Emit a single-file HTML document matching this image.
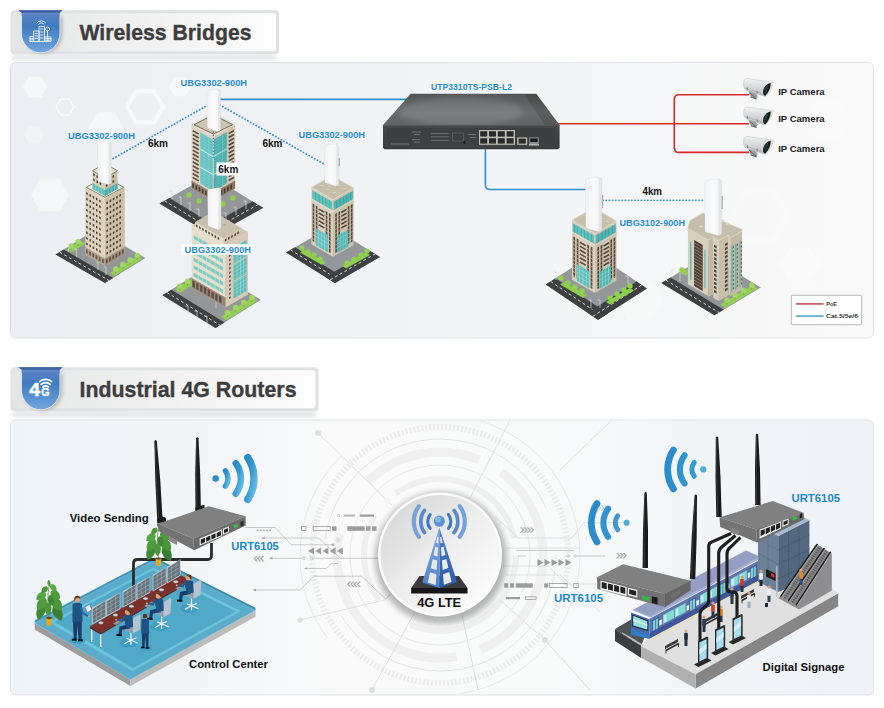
<!DOCTYPE html>
<html><head><meta charset="utf-8"><title>Wireless Bridges / Industrial 4G Routers</title>
<style>
html,body{margin:0;padding:0;background:#fff;}
body{width:884px;height:708px;overflow:hidden;font-family:"Liberation Sans",sans-serif;}
svg{display:block;font-family:"Liberation Sans",sans-serif;}
</style></head><body>
<svg width="884" height="708" viewBox="0 0 884 708">
<defs>
<linearGradient id="gP1" x1="0" y1="0" x2="1" y2="0"><stop offset="0" stop-color="#ebeef2"/><stop offset="0.55" stop-color="#f3f4f6"/><stop offset="1" stop-color="#f9f9f9"/></linearGradient>
<linearGradient id="gP2" x1="0" y1="0" x2="1" y2="0"><stop offset="0" stop-color="#eff4f9"/><stop offset="0.2" stop-color="#f2f5f8"/><stop offset="0.38" stop-color="#fafafa"/><stop offset="0.62" stop-color="#f9fafa"/><stop offset="0.8" stop-color="#f2f5f8"/><stop offset="1" stop-color="#eff3f8"/></linearGradient>
<linearGradient id="gHd" x1="0" y1="0" x2="1" y2="0"><stop offset="0" stop-color="#e4e5e6"/><stop offset="0.5" stop-color="#f1f1f1"/><stop offset="1" stop-color="#fdfdfd"/></linearGradient>
<linearGradient id="gSh" x1="0" y1="0" x2="0" y2="1"><stop offset="0" stop-color="#6f90c8"/><stop offset="0.12" stop-color="#5883c3"/><stop offset="0.38" stop-color="#417bc1"/><stop offset="1" stop-color="#70a6de"/></linearGradient>
<linearGradient id="gBr" x1="0" y1="0" x2="1" y2="0"><stop offset="0" stop-color="#f1f2f4"/><stop offset="0.6" stop-color="#fbfbfc"/><stop offset="1" stop-color="#f3f4f5"/></linearGradient>
<linearGradient id="gSwT" x1="0" y1="0" x2="0" y2="1"><stop offset="0" stop-color="#535557"/><stop offset="0.6" stop-color="#696b6d"/><stop offset="1" stop-color="#5f6163"/></linearGradient>
<linearGradient id="gSwF" x1="0" y1="0" x2="0" y2="1"><stop offset="0" stop-color="#454749"/><stop offset="1" stop-color="#37393b"/></linearGradient>
<linearGradient id="gCam" x1="0" y1="0" x2="0" y2="1"><stop offset="0" stop-color="#f2f2f2"/><stop offset="1" stop-color="#b9bbbd"/></linearGradient>
<linearGradient id="gWf" x1="0" y1="0" x2="1" y2="0"><stop offset="0" stop-color="#1d8fd4"/><stop offset="1" stop-color="#74c3ee"/></linearGradient>
<linearGradient id="gWfV" x1="0" y1="0" x2="0.7" y2="1"><stop offset="0" stop-color="#278bc9"/><stop offset="0.5" stop-color="#3798d2"/><stop offset="1" stop-color="#60b8e3"/></linearGradient>
<linearGradient id="gWfR" x1="1" y1="0" x2="0" y2="0"><stop offset="0" stop-color="#1d8fd4"/><stop offset="1" stop-color="#5bb4e8"/></linearGradient>
<linearGradient id="gCirc" x1="0" y1="0" x2="1" y2="1"><stop offset="0" stop-color="#d2d2d2"/><stop offset="0.5" stop-color="#eeeeee"/><stop offset="1" stop-color="#ffffff"/></linearGradient>
<radialGradient id="gShadow" cx="0.5" cy="0.5" r="0.5"><stop offset="0.8" stop-color="#000" stop-opacity="0.22"/><stop offset="1" stop-color="#000" stop-opacity="0"/></radialGradient>
<linearGradient id="gTwL" x1="0" y1="0" x2="0" y2="1"><stop offset="0" stop-color="#82abde"/><stop offset="1" stop-color="#4f83c9"/></linearGradient>
<linearGradient id="gTwR" x1="0" y1="0" x2="0" y2="1"><stop offset="0" stop-color="#4d7fc6"/><stop offset="1" stop-color="#2c5aa8"/></linearGradient>
<linearGradient id="gAnt" x1="0" y1="0" x2="1" y2="0"><stop offset="0" stop-color="#3a3a3a"/><stop offset="0.5" stop-color="#111"/><stop offset="1" stop-color="#000"/></linearGradient>
<filter id="fBlur" x="-20%" y="-20%" width="140%" height="140%"><feGaussianBlur stdDeviation="3"/></filter>
<filter id="fBlur2" x="-20%" y="-50%" width="140%" height="200%"><feGaussianBlur stdDeviation="2"/></filter>
</defs>
<rect width="884" height="708" fill="#ffffff"/>

<rect x="12" y="54.3" width="264.5" height="6" fill="#000" opacity="0.10" filter="url(#fBlur2)"/>
<rect x="10.5" y="10.3" width="268.5" height="44" rx="4" fill="#dfe1e3"/>
<rect x="12.5" y="13.3" width="263.5" height="38" rx="3" fill="url(#gHd)"/>
<path d="M24,16.3 H62 V34.3 A19,19 0 0 1 24,34.3 Z" fill="#000" opacity="0.25" filter="url(#fBlur2)"/>
<path d="M18.3,10.3 H62.6 L59.7,12.8 V33.3 A19,19.3 0 0 1 21.7,33.3 V12.8 Z" fill="url(#gSh)"/>
<path d="M59.9,16.3 V33.3 A19.2,19.5 0 0 1 21.5,33.3 V16.3" fill="none" stroke="#fff" stroke-width="0.7" opacity="0.75"/>
<path d="M18.3,10.3 H62.6 L59.7,12.8 H21.7 Z" fill="#3d64a0"/>
<g fill="none" stroke="#fff" stroke-width="0.8" stroke-linecap="round" stroke-linejoin="round">
<path d="M33.5,41.5 V31 h5.5 V41.5 M35,33.5 h2.5 M35,36 h2.5 M35,38.5 h2.5"/>
<path d="M39,41.5 V26.5 h5.5 V41.5 M40.5,29 h2.5 M40.5,32 h2.5 M40.5,35 h2.5 M40.5,38 h2.5"/>
<path d="M30,41.5 V36.5 h3.5 M30,38.2 h3.5 M30,39.9 h3.5 M30,41.5 H51 V37 H44.5 M44.5,38.7 H51 M44.5,40.2 H51 M47.7,37 V41.5"/>
<circle cx="47.5" cy="29" r="2"/><path d="M47.5,31 V36.5"/>
<path d="M38.5,24.3 a3.3,3.3 0 0 1 5.6,0 M37,22.8 a5.4,5.4 0 0 1 8.6,0"/>
</g>
<text x="79.5" y="40.2" font-size="21.3" font-weight="bold" fill="#3d3d3d" text-anchor="start" textLength="172" lengthAdjust="spacingAndGlyphs" stroke="#3d3d3d" stroke-width="0.35">Wireless Bridges</text>
<rect x="12" y="411.2" width="304" height="6" fill="#000" opacity="0.10" filter="url(#fBlur2)"/>
<rect x="10.5" y="367.2" width="308" height="44" rx="4" fill="#dfe1e3"/>
<rect x="12.5" y="370.2" width="303" height="38" rx="3" fill="url(#gHd)"/>
<path d="M24,373.2 H62 V391.2 A19,19 0 0 1 24,391.2 Z" fill="#000" opacity="0.25" filter="url(#fBlur2)"/>
<path d="M18.3,367.2 H62.6 L59.7,369.7 V390.2 A19,19.3 0 0 1 21.7,390.2 V369.7 Z" fill="url(#gSh)"/>
<path d="M59.9,373.2 V390.2 A19.2,19.5 0 0 1 21.5,390.2 V373.2" fill="none" stroke="#fff" stroke-width="0.7" opacity="0.75"/>
<path d="M18.3,367.2 H62.6 L59.7,369.7 H21.7 Z" fill="#3d64a0"/>
<text x="29.3" y="396.4" font-size="18.5" font-weight="bold" fill="#fff" stroke="#fff" stroke-width="0.5" textLength="10.8" lengthAdjust="spacingAndGlyphs">4</text>
<text x="41.2" y="396.4" font-size="10.8" font-weight="bold" fill="#fff" stroke="#fff" stroke-width="0.3">G</text>
<g fill="none" stroke="#fff" stroke-width="1.7" stroke-linecap="round"><path d="M43,387 a4,4 0 0 1 5.4,0"/><path d="M41.2,384.3 a6.6,6.6 0 0 1 9,0"/><path d="M39.6,381.7 a9.2,9.2 0 0 1 12.2,0" stroke-width="1.6"/></g>
<text x="79.5" y="397.09999999999997" font-size="21.3" font-weight="bold" fill="#3d3d3d" text-anchor="start" textLength="217" lengthAdjust="spacingAndGlyphs" stroke="#3d3d3d" stroke-width="0.35">Industrial 4G Routers</text>
<rect x="10.5" y="62.5" width="863" height="275.5" rx="5" fill="url(#gP1)" stroke="#dfe2e5" stroke-width="1"/>
<polygon points="47.0,87.0 41.0,97.4 29.0,97.4 23.0,87.0 29.0,76.6 41.0,76.6" fill="#fff" opacity="0.55"/>
<polygon points="74.0,107.0 69.5,114.8 60.5,114.8 56.0,107.0 60.5,99.2 69.5,99.2" fill="none" stroke="#fff" stroke-width="1.2" opacity="0.7"/>
<polygon points="123.0,127.0 114.5,141.7 97.5,141.7 89.0,127.0 97.5,112.3 114.5,112.3" fill="#fff" opacity="0.45"/>
<polygon points="163.0,107.0 154.0,122.6 136.0,122.6 127.0,107.0 136.0,91.4 154.0,91.4" fill="none" stroke="#fff" stroke-width="4" opacity="0.6"/>
<polygon points="191.0,87.0 185.5,96.5 174.5,96.5 169.0,87.0 174.5,77.5 185.5,77.5" fill="#fff" opacity="0.5"/>
<polygon points="69.0,195.0 59.5,211.5 40.5,211.5 31.0,195.0 40.5,178.5 59.5,178.5" fill="#fff" opacity="0.45"/>
<polygon points="44.0,135.0 39.0,143.7 29.0,143.7 24.0,135.0 29.0,126.3 39.0,126.3" fill="#fff" opacity="0.3"/>
<polygon points="820.0,265.0 810.0,282.3 790.0,282.3 780.0,265.0 790.0,247.7 810.0,247.7" fill="#fff" opacity="0.25"/>
<polygon points="788.0,215.0 774.0,239.2 746.0,239.2 732.0,215.0 746.0,190.8 774.0,190.8" fill="none" stroke="#fff" stroke-width="5" opacity="0.22"/>
<polygon points="852.0,120.0 841.0,139.1 819.0,139.1 808.0,120.0 819.0,100.9 841.0,100.9" fill="#fff" opacity="0.22"/>
<polygon points="664.0,300.0 652.0,320.8 628.0,320.8 616.0,300.0 628.0,279.2 652.0,279.2" fill="#fff" opacity="0.22"/>
<path d="M220,99.4 H408" stroke="#2f8fcf" stroke-width="1.6" fill="none"/>
<path d="M485.4,148 V184.8 Q485.4,189.5 490,189.5 H586" stroke="#2f8fcf" stroke-width="1.6" fill="none"/>
<path d="M558,123.7 H749 M749,94.8 H679 Q674.3,94.8 674.3,99.5 V147.7 Q674.3,152.4 679,152.4 H749" stroke="#d42a2a" stroke-width="1.6" fill="none"/>
<line x1="208.0" y1="105.0" x2="111.5" y2="159.5" stroke="#2f8fcf" stroke-width="1.8" stroke-dasharray="0.1 3.1" stroke-linecap="round"/>
<line x1="220.0" y1="105.0" x2="324.0" y2="164.0" stroke="#2f8fcf" stroke-width="1.8" stroke-dasharray="0.1 3.1" stroke-linecap="round"/>
<line x1="603.0" y1="200.3" x2="704.0" y2="200.3" stroke="#2f8fcf" stroke-width="1.8" stroke-dasharray="0.1 3.1" stroke-linecap="round"/>
<polygon points="159.5,203.5 209.7,175.3 263.2,207.8 213.0,236.0" fill="#94979a" />
<polygon points="159.5,203.5 213.0,236.0 223.0,230.4 169.5,197.9" fill="#3e4042" />
<line x1="164.5" y1="200.7" x2="218.0" y2="233.2" stroke="#e8e8e8" stroke-width="0.9" stroke-dasharray="3 2.5"/>
<polygon points="213.0,236.0 263.2,207.8 252.5,201.3 202.3,229.5" fill="#3e4042" />
<line x1="207.7" y1="232.8" x2="257.9" y2="204.6" stroke="#e8e8e8" stroke-width="0.9" stroke-dasharray="3 2.5"/>
<circle cx="189" cy="195" r="2.7" fill="#8fd14f"/>
<circle cx="199" cy="201" r="2.7" fill="#8fd14f"/>
<circle cx="223" cy="204" r="2.7" fill="#8fd14f"/>
<circle cx="233" cy="198" r="2.7" fill="#8fd14f"/>
<path d="M172,199 V191 h-2.5" stroke="#d9dcdf" stroke-width="0.7" fill="none"/>
<path d="M181,205 V197 h-2.5" stroke="#d9dcdf" stroke-width="0.7" fill="none"/>
<path d="M190,211 V203 h-2.5" stroke="#d9dcdf" stroke-width="0.7" fill="none"/>
<path d="M199,217 V209 h-2.5" stroke="#d9dcdf" stroke-width="0.7" fill="none"/>
<path d="M226,221 V213 h-2.5" stroke="#d9dcdf" stroke-width="0.7" fill="none"/>
<path d="M236,215 V207 h-2.5" stroke="#d9dcdf" stroke-width="0.7" fill="none"/>
<path d="M246,209 V201 h-2.5" stroke="#d9dcdf" stroke-width="0.7" fill="none"/>
<polygon points="191.5,124.4 213.3,111.8 235.1,124.4 213.3,137.0" fill="#e6e0d1" />
<polygon points="191.5,124.4 213.3,137.0 213.3,201.0 191.5,188.4" fill="#dcd3c0" />
<polygon points="213.3,137.0 235.1,124.4 235.1,188.4 213.3,201.0" fill="#cfc5b0" />
<polygon points="194.0,124.7 213.3,114.8 232.6,124.7 213.3,134.0" fill="#cdc4b0" stroke="#4a4037" stroke-width="0.7"/>
<polygon points="212.7,139.7 200.3,132.5 200.3,183.5 212.7,190.7" fill="#63c2c0" />
<polygon points="213.9,139.7 226.8,132.2 226.8,183.2 213.9,190.7" fill="#48adae" />
<polygon points="212.7,155.7 200.3,148.5 200.3,149.7 212.7,156.9" fill="#d7f0ee" />
<polygon points="213.9,155.7 226.8,148.2 226.8,149.4 213.9,156.9" fill="#bfe4e2" />
<polygon points="212.7,173.7 200.3,166.5 200.3,167.7 212.7,174.9" fill="#d7f0ee" />
<polygon points="213.9,173.7 226.8,166.2 226.8,167.4 213.9,174.9" fill="#bfe4e2" />
<line x1="200.3" y1="134.5" x2="212.7" y2="141.7" stroke="#8ad2ce" stroke-width="0.45" stroke-dasharray="30 0.01"/>
<line x1="200.3" y1="137.3" x2="212.7" y2="144.5" stroke="#8ad2ce" stroke-width="0.45" stroke-dasharray="30 0.01"/>
<line x1="200.3" y1="140.1" x2="212.7" y2="147.3" stroke="#8ad2ce" stroke-width="0.45" stroke-dasharray="30 0.01"/>
<line x1="200.3" y1="142.9" x2="212.7" y2="150.1" stroke="#8ad2ce" stroke-width="0.45" stroke-dasharray="30 0.01"/>
<line x1="200.3" y1="145.7" x2="212.7" y2="152.9" stroke="#8ad2ce" stroke-width="0.45" stroke-dasharray="30 0.01"/>
<line x1="200.3" y1="148.5" x2="212.7" y2="155.7" stroke="#8ad2ce" stroke-width="0.45" stroke-dasharray="30 0.01"/>
<line x1="200.3" y1="151.3" x2="212.7" y2="158.5" stroke="#8ad2ce" stroke-width="0.45" stroke-dasharray="30 0.01"/>
<line x1="200.3" y1="154.1" x2="212.7" y2="161.3" stroke="#8ad2ce" stroke-width="0.45" stroke-dasharray="30 0.01"/>
<line x1="200.3" y1="156.9" x2="212.7" y2="164.1" stroke="#8ad2ce" stroke-width="0.45" stroke-dasharray="30 0.01"/>
<line x1="200.3" y1="159.7" x2="212.7" y2="166.9" stroke="#8ad2ce" stroke-width="0.45" stroke-dasharray="30 0.01"/>
<line x1="200.3" y1="162.5" x2="212.7" y2="169.7" stroke="#8ad2ce" stroke-width="0.45" stroke-dasharray="30 0.01"/>
<line x1="200.3" y1="165.3" x2="212.7" y2="172.5" stroke="#8ad2ce" stroke-width="0.45" stroke-dasharray="30 0.01"/>
<line x1="200.3" y1="168.1" x2="212.7" y2="175.3" stroke="#8ad2ce" stroke-width="0.45" stroke-dasharray="30 0.01"/>
<line x1="200.3" y1="170.9" x2="212.7" y2="178.1" stroke="#8ad2ce" stroke-width="0.45" stroke-dasharray="30 0.01"/>
<line x1="200.3" y1="173.7" x2="212.7" y2="180.9" stroke="#8ad2ce" stroke-width="0.45" stroke-dasharray="30 0.01"/>
<line x1="200.3" y1="176.5" x2="212.7" y2="183.7" stroke="#8ad2ce" stroke-width="0.45" stroke-dasharray="30 0.01"/>
<line x1="200.3" y1="179.3" x2="212.7" y2="186.5" stroke="#8ad2ce" stroke-width="0.45" stroke-dasharray="30 0.01"/>
<line x1="200.3" y1="182.1" x2="212.7" y2="189.3" stroke="#8ad2ce" stroke-width="0.45" stroke-dasharray="30 0.01"/>
<line x1="213.9" y1="141.7" x2="226.8" y2="134.2" stroke="#7cc8c6" stroke-width="0.45" stroke-dasharray="30 0.01"/>
<line x1="213.9" y1="144.5" x2="226.8" y2="137.0" stroke="#7cc8c6" stroke-width="0.45" stroke-dasharray="30 0.01"/>
<line x1="213.9" y1="147.3" x2="226.8" y2="139.8" stroke="#7cc8c6" stroke-width="0.45" stroke-dasharray="30 0.01"/>
<line x1="213.9" y1="150.1" x2="226.8" y2="142.6" stroke="#7cc8c6" stroke-width="0.45" stroke-dasharray="30 0.01"/>
<line x1="213.9" y1="152.9" x2="226.8" y2="145.4" stroke="#7cc8c6" stroke-width="0.45" stroke-dasharray="30 0.01"/>
<line x1="213.9" y1="155.7" x2="226.8" y2="148.2" stroke="#7cc8c6" stroke-width="0.45" stroke-dasharray="30 0.01"/>
<line x1="213.9" y1="158.5" x2="226.8" y2="151.0" stroke="#7cc8c6" stroke-width="0.45" stroke-dasharray="30 0.01"/>
<line x1="213.9" y1="161.3" x2="226.8" y2="153.8" stroke="#7cc8c6" stroke-width="0.45" stroke-dasharray="30 0.01"/>
<line x1="213.9" y1="164.1" x2="226.8" y2="156.6" stroke="#7cc8c6" stroke-width="0.45" stroke-dasharray="30 0.01"/>
<line x1="213.9" y1="166.9" x2="226.8" y2="159.4" stroke="#7cc8c6" stroke-width="0.45" stroke-dasharray="30 0.01"/>
<line x1="213.9" y1="169.7" x2="226.8" y2="162.2" stroke="#7cc8c6" stroke-width="0.45" stroke-dasharray="30 0.01"/>
<line x1="213.9" y1="172.5" x2="226.8" y2="165.0" stroke="#7cc8c6" stroke-width="0.45" stroke-dasharray="30 0.01"/>
<line x1="213.9" y1="175.3" x2="226.8" y2="167.8" stroke="#7cc8c6" stroke-width="0.45" stroke-dasharray="30 0.01"/>
<line x1="213.9" y1="178.1" x2="226.8" y2="170.6" stroke="#7cc8c6" stroke-width="0.45" stroke-dasharray="30 0.01"/>
<line x1="213.9" y1="180.9" x2="226.8" y2="173.4" stroke="#7cc8c6" stroke-width="0.45" stroke-dasharray="30 0.01"/>
<line x1="213.9" y1="183.7" x2="226.8" y2="176.2" stroke="#7cc8c6" stroke-width="0.45" stroke-dasharray="30 0.01"/>
<line x1="213.9" y1="186.5" x2="226.8" y2="179.0" stroke="#7cc8c6" stroke-width="0.45" stroke-dasharray="30 0.01"/>
<line x1="213.9" y1="189.3" x2="226.8" y2="181.8" stroke="#7cc8c6" stroke-width="0.45" stroke-dasharray="30 0.01"/>
<polygon points="208.8,137.4 208.4,137.1 208.4,188.1 208.8,188.4" fill="#93d7d3" />
<polygon points="217.8,137.4 218.2,137.1 218.2,188.1 217.8,188.4" fill="#84cdca" />
<polygon points="204.3,134.8 203.9,134.5 203.9,185.5 204.3,185.8" fill="#93d7d3" />
<polygon points="222.3,134.8 222.8,134.5 222.8,185.5 222.3,185.8" fill="#84cdca" />
<line x1="192.7" y1="130.6" x2="198.7" y2="134.1" stroke="#584c41" stroke-width="1.6" stroke-dasharray="30 0.01"/>
<line x1="192.7" y1="134.5" x2="198.7" y2="138.0" stroke="#584c41" stroke-width="1.6" stroke-dasharray="30 0.01"/>
<line x1="192.7" y1="138.4" x2="198.7" y2="141.9" stroke="#584c41" stroke-width="1.6" stroke-dasharray="30 0.01"/>
<line x1="192.7" y1="142.3" x2="198.7" y2="145.8" stroke="#584c41" stroke-width="1.6" stroke-dasharray="30 0.01"/>
<line x1="192.7" y1="146.2" x2="198.7" y2="149.7" stroke="#584c41" stroke-width="1.6" stroke-dasharray="30 0.01"/>
<line x1="192.7" y1="150.1" x2="198.7" y2="153.6" stroke="#584c41" stroke-width="1.6" stroke-dasharray="30 0.01"/>
<line x1="192.7" y1="154.0" x2="198.7" y2="157.5" stroke="#584c41" stroke-width="1.6" stroke-dasharray="30 0.01"/>
<line x1="192.7" y1="157.9" x2="198.7" y2="161.4" stroke="#584c41" stroke-width="1.6" stroke-dasharray="30 0.01"/>
<line x1="192.7" y1="161.8" x2="198.7" y2="165.3" stroke="#584c41" stroke-width="1.6" stroke-dasharray="30 0.01"/>
<line x1="192.7" y1="165.7" x2="198.7" y2="169.2" stroke="#584c41" stroke-width="1.6" stroke-dasharray="30 0.01"/>
<line x1="192.7" y1="169.6" x2="198.7" y2="173.1" stroke="#584c41" stroke-width="1.6" stroke-dasharray="30 0.01"/>
<line x1="192.7" y1="173.5" x2="198.7" y2="177.0" stroke="#584c41" stroke-width="1.6" stroke-dasharray="30 0.01"/>
<line x1="192.7" y1="177.4" x2="198.7" y2="180.9" stroke="#584c41" stroke-width="1.6" stroke-dasharray="30 0.01"/>
<line x1="228.7" y1="133.6" x2="233.9" y2="130.6" stroke="#4f443a" stroke-width="1.6" stroke-dasharray="30 0.01"/>
<line x1="228.7" y1="137.5" x2="233.9" y2="134.5" stroke="#4f443a" stroke-width="1.6" stroke-dasharray="30 0.01"/>
<line x1="228.7" y1="141.4" x2="233.9" y2="138.4" stroke="#4f443a" stroke-width="1.6" stroke-dasharray="30 0.01"/>
<line x1="228.7" y1="145.3" x2="233.9" y2="142.3" stroke="#4f443a" stroke-width="1.6" stroke-dasharray="30 0.01"/>
<line x1="228.7" y1="149.2" x2="233.9" y2="146.2" stroke="#4f443a" stroke-width="1.6" stroke-dasharray="30 0.01"/>
<line x1="228.7" y1="153.1" x2="233.9" y2="150.1" stroke="#4f443a" stroke-width="1.6" stroke-dasharray="30 0.01"/>
<line x1="228.7" y1="157.0" x2="233.9" y2="154.0" stroke="#4f443a" stroke-width="1.6" stroke-dasharray="30 0.01"/>
<line x1="228.7" y1="160.9" x2="233.9" y2="157.9" stroke="#4f443a" stroke-width="1.6" stroke-dasharray="30 0.01"/>
<line x1="228.7" y1="164.8" x2="233.9" y2="161.8" stroke="#4f443a" stroke-width="1.6" stroke-dasharray="30 0.01"/>
<line x1="228.7" y1="168.7" x2="233.9" y2="165.7" stroke="#4f443a" stroke-width="1.6" stroke-dasharray="30 0.01"/>
<line x1="228.7" y1="172.6" x2="233.9" y2="169.6" stroke="#4f443a" stroke-width="1.6" stroke-dasharray="30 0.01"/>
<line x1="228.7" y1="176.5" x2="233.9" y2="173.5" stroke="#4f443a" stroke-width="1.6" stroke-dasharray="30 0.01"/>
<line x1="228.7" y1="180.4" x2="233.9" y2="177.4" stroke="#4f443a" stroke-width="1.6" stroke-dasharray="30 0.01"/>
<polygon points="213.3,193.0 191.5,180.4 191.5,188.4 213.3,201.0" fill="#9a8473" />
<polygon points="213.3,193.0 235.1,180.4 235.1,188.4 213.3,201.0" fill="#8a7464" />
<path d="M192.3,182.9L193.9,183.9L193.9,188.4L192.3,187.4ZM195.5,184.8L197.1,185.7L197.1,190.2L195.5,189.3ZM198.7,186.6L200.3,187.5L200.3,192.0L198.7,191.1ZM201.9,188.5L203.5,189.4L203.5,193.9L201.9,193.0ZM205.1,190.3L206.7,191.2L206.7,195.7L205.1,194.8ZM208.3,192.2L209.9,193.1L209.9,197.6L208.3,196.7Z" fill="#4a3c32"/>
<path d="M214.3,194.5L215.9,193.5L215.9,198.0L214.3,199.0ZM217.5,192.6L219.1,191.7L219.1,196.2L217.5,197.1ZM220.7,190.8L222.3,189.9L222.3,194.4L220.7,195.3ZM223.9,188.9L225.5,188.0L225.5,192.5L223.9,193.4ZM227.1,187.1L228.7,186.2L228.7,190.7L227.1,191.6ZM230.3,185.2L231.9,184.3L231.9,188.8L230.3,189.7Z" fill="#43362d"/>
<path d="M207.3,92.4 Q207.3,91.2 208.5,90.9 L216.5,89.3 Q220.0,88.9 220.5,91.2 L220.5,129.7 Q220.0,131.2 217.5,131.2 L208.5,128.0 Q207.6,127.6 207.6,126.6 Z" fill="#e4e6e8" stroke="#d3d6d9" stroke-width="0.4"/>
<path d="M207.3,92.4 Q207.3,91.2 208.5,90.9 L216.5,89.3 Q218.1,89.4 218.1,91.7 L217.9,131.2 L208.5,128.0 Q207.6,127.6 207.6,126.6 Z" fill="url(#gBr)"/>
<line x1="213.3" y1="132.0" x2="213.3" y2="158.0" stroke="#2a7fb8" stroke-width="1.3" stroke-dasharray="0.1 3.1" stroke-linecap="round"/>
<polygon points="55.5,254.5 95.9,229.5 145.4,258.0 105.0,283.0" fill="#94979a" />
<polygon points="55.5,254.5 105.0,283.0 113.1,278.0 63.6,249.5" fill="#3e4042" />
<line x1="59.5" y1="252.0" x2="109.0" y2="280.5" stroke="#e8e8e8" stroke-width="0.9" stroke-dasharray="3 2.5"/>
<polygon points="80.4,240.9 66.7,249.4 71.6,252.2 85.4,243.7" fill="#93cf55" />
<line x1="78.1" y1="243.3" x2="78.1" y2="246.1" stroke="#7a8a4a" stroke-width="0.7" />
<circle cx="78.1" cy="241.7" r="2.7" fill="#9fd962"/>
<line x1="71.2" y1="247.5" x2="71.2" y2="250.3" stroke="#7a8a4a" stroke-width="0.7" />
<circle cx="71.2" cy="245.9" r="2.7" fill="#9fd962"/>
<polygon points="114.8,276.1 142.6,258.8 137.7,256.0 109.8,273.2" fill="#93cf55" />
<line x1="115.6" y1="270.6" x2="115.6" y2="273.4" stroke="#7a8a4a" stroke-width="0.7" />
<circle cx="115.6" cy="269.0" r="2.7" fill="#9fd962"/>
<line x1="122.9" y1="266.1" x2="122.9" y2="268.9" stroke="#7a8a4a" stroke-width="0.7" />
<circle cx="122.9" cy="264.5" r="2.7" fill="#9fd962"/>
<line x1="130.1" y1="261.6" x2="130.1" y2="264.4" stroke="#7a8a4a" stroke-width="0.7" />
<circle cx="130.1" cy="260.0" r="2.7" fill="#9fd962"/>
<line x1="137.4" y1="257.1" x2="137.4" y2="259.9" stroke="#7a8a4a" stroke-width="0.7" />
<circle cx="137.4" cy="255.5" r="2.7" fill="#9fd962"/>
<path d="M68.7,252 V244 h-2.5" stroke="#d9dcdf" stroke-width="0.7" fill="none"/>
<path d="M76.6,257 V249 h-2.5" stroke="#d9dcdf" stroke-width="0.7" fill="none"/>
<path d="M98,270 V262 h-2.5" stroke="#d9dcdf" stroke-width="0.7" fill="none"/>
<path d="M106,275 V267 h-2.5" stroke="#d9dcdf" stroke-width="0.7" fill="none"/>
<polygon points="85.3,187.1 105.0,175.8 124.7,187.1 105.0,198.5" fill="#efe9da" />
<polygon points="85.3,187.1 105.0,198.5 105.0,266.0 85.3,254.6" fill="#ddd3bf" />
<polygon points="105.0,198.5 124.7,187.1 124.7,254.6 105.0,266.0" fill="#cbbfa8" />
<polygon points="86.3,187.3 105.0,177.0 123.7,187.3 105.0,197.3" fill="#f2ede0" stroke="#4a3d33" stroke-width="0.6"/>
<path d="M86.2,192.0L87.7,192.9L87.7,195.2L86.2,194.3ZM89.5,193.9L91.0,194.7L91.0,197.0L89.5,196.2ZM92.7,195.8L94.2,196.6L94.2,198.9L92.7,198.1ZM96.0,197.6L97.5,198.5L97.5,200.8L96.0,199.9ZM99.2,199.5L100.7,200.4L100.7,202.7L99.2,201.8ZM86.2,197.6L87.7,198.5L87.7,200.8L86.2,199.9ZM89.5,199.5L91.0,200.3L91.0,202.6L89.5,201.8ZM92.7,201.4L94.2,202.2L94.2,204.5L92.7,203.7ZM96.0,203.2L97.5,204.1L97.5,206.4L96.0,205.5ZM99.2,205.1L100.7,206.0L100.7,208.3L99.2,207.4ZM86.2,203.2L87.7,204.1L87.7,206.4L86.2,205.5ZM89.5,205.1L91.0,205.9L91.0,208.2L89.5,207.4ZM92.7,207.0L94.2,207.8L94.2,210.1L92.7,209.3ZM96.0,208.8L97.5,209.7L97.5,212.0L96.0,211.1ZM99.2,210.7L100.7,211.6L100.7,213.9L99.2,213.0ZM86.2,208.8L87.7,209.7L87.7,212.0L86.2,211.1ZM89.5,210.7L91.0,211.5L91.0,213.8L89.5,213.0ZM92.7,212.6L94.2,213.4L94.2,215.7L92.7,214.9ZM96.0,214.4L97.5,215.3L97.5,217.6L96.0,216.7ZM99.2,216.3L100.7,217.2L100.7,219.5L99.2,218.6ZM86.2,214.4L87.7,215.3L87.7,217.6L86.2,216.7ZM89.5,216.3L91.0,217.1L91.0,219.4L89.5,218.6ZM92.7,218.2L94.2,219.0L94.2,221.3L92.7,220.5ZM96.0,220.0L97.5,220.9L97.5,223.2L96.0,222.3ZM99.2,221.9L100.7,222.8L100.7,225.1L99.2,224.2ZM86.2,220.0L87.7,220.9L87.7,223.2L86.2,222.3ZM89.5,221.9L91.0,222.7L91.0,225.0L89.5,224.2ZM92.7,223.8L94.2,224.6L94.2,226.9L92.7,226.1ZM96.0,225.6L97.5,226.5L97.5,228.8L96.0,227.9ZM99.2,227.5L100.7,228.4L100.7,230.7L99.2,229.8ZM86.2,225.6L87.7,226.5L87.7,228.8L86.2,227.9ZM89.5,227.5L91.0,228.3L91.0,230.6L89.5,229.8ZM92.7,229.4L94.2,230.2L94.2,232.5L92.7,231.7ZM96.0,231.2L97.5,232.1L97.5,234.4L96.0,233.5ZM99.2,233.1L100.7,234.0L100.7,236.3L99.2,235.4ZM86.2,231.2L87.7,232.1L87.7,234.4L86.2,233.5ZM89.5,233.1L91.0,233.9L91.0,236.2L89.5,235.4ZM92.7,235.0L94.2,235.8L94.2,238.1L92.7,237.3ZM96.0,236.8L97.5,237.7L97.5,240.0L96.0,239.1ZM99.2,238.7L100.7,239.6L100.7,241.9L99.2,241.0ZM86.2,236.8L87.7,237.7L87.7,240.0L86.2,239.1ZM89.5,238.7L91.0,239.5L91.0,241.8L89.5,241.0ZM92.7,240.6L94.2,241.4L94.2,243.7L92.7,242.9ZM96.0,242.4L97.5,243.3L97.5,245.6L96.0,244.7ZM99.2,244.3L100.7,245.2L100.7,247.5L99.2,246.6ZM86.2,242.4L87.7,243.3L87.7,245.6L86.2,244.7ZM89.5,244.3L91.0,245.1L91.0,247.4L89.5,246.6ZM92.7,246.2L94.2,247.0L94.2,249.3L92.7,248.5ZM96.0,248.0L97.5,248.9L97.5,251.2L96.0,250.3ZM99.2,249.9L100.7,250.8L100.7,253.1L99.2,252.2Z" fill="#4a3e34"/>
<path d="M106.4,202.0L107.9,201.2L107.9,203.5L106.4,204.3ZM109.7,200.2L111.2,199.3L111.2,201.6L109.7,202.5ZM112.9,198.3L114.4,197.4L114.4,199.7L112.9,200.6ZM116.2,196.4L117.7,195.6L117.7,197.9L116.2,198.7ZM119.4,194.5L120.9,193.7L120.9,196.0L119.4,196.8ZM106.4,207.6L107.9,206.8L107.9,209.1L106.4,209.9ZM109.7,205.8L111.2,204.9L111.2,207.2L109.7,208.1ZM112.9,203.9L114.4,203.0L114.4,205.3L112.9,206.2ZM116.2,202.0L117.7,201.2L117.7,203.5L116.2,204.3ZM119.4,200.1L120.9,199.3L120.9,201.6L119.4,202.4ZM106.4,213.2L107.9,212.4L107.9,214.7L106.4,215.5ZM109.7,211.4L111.2,210.5L111.2,212.8L109.7,213.7ZM112.9,209.5L114.4,208.6L114.4,210.9L112.9,211.8ZM116.2,207.6L117.7,206.8L117.7,209.1L116.2,209.9ZM119.4,205.7L120.9,204.9L120.9,207.2L119.4,208.0ZM106.4,218.8L107.9,218.0L107.9,220.3L106.4,221.1ZM109.7,217.0L111.2,216.1L111.2,218.4L109.7,219.3ZM112.9,215.1L114.4,214.2L114.4,216.5L112.9,217.4ZM116.2,213.2L117.7,212.4L117.7,214.7L116.2,215.5ZM119.4,211.3L120.9,210.5L120.9,212.8L119.4,213.6ZM106.4,224.4L107.9,223.6L107.9,225.9L106.4,226.7ZM109.7,222.6L111.2,221.7L111.2,224.0L109.7,224.9ZM112.9,220.7L114.4,219.8L114.4,222.1L112.9,223.0ZM116.2,218.8L117.7,218.0L117.7,220.3L116.2,221.1ZM119.4,216.9L120.9,216.1L120.9,218.4L119.4,219.2ZM106.4,230.0L107.9,229.2L107.9,231.5L106.4,232.3ZM109.7,228.2L111.2,227.3L111.2,229.6L109.7,230.5ZM112.9,226.3L114.4,225.4L114.4,227.7L112.9,228.6ZM116.2,224.4L117.7,223.6L117.7,225.9L116.2,226.7ZM119.4,222.5L120.9,221.7L120.9,224.0L119.4,224.8ZM106.4,235.6L107.9,234.8L107.9,237.1L106.4,237.9ZM109.7,233.8L111.2,232.9L111.2,235.2L109.7,236.1ZM112.9,231.9L114.4,231.0L114.4,233.3L112.9,234.2ZM116.2,230.0L117.7,229.2L117.7,231.5L116.2,232.3ZM119.4,228.1L120.9,227.3L120.9,229.6L119.4,230.4ZM106.4,241.2L107.9,240.4L107.9,242.7L106.4,243.5ZM109.7,239.4L111.2,238.5L111.2,240.8L109.7,241.7ZM112.9,237.5L114.4,236.6L114.4,238.9L112.9,239.8ZM116.2,235.6L117.7,234.8L117.7,237.1L116.2,237.9ZM119.4,233.7L120.9,232.9L120.9,235.2L119.4,236.0ZM106.4,246.8L107.9,246.0L107.9,248.3L106.4,249.1ZM109.7,245.0L111.2,244.1L111.2,246.4L109.7,247.3ZM112.9,243.1L114.4,242.2L114.4,244.5L112.9,245.4ZM116.2,241.2L117.7,240.4L117.7,242.7L116.2,243.5ZM119.4,239.3L120.9,238.5L120.9,240.8L119.4,241.6ZM106.4,252.4L107.9,251.6L107.9,253.9L106.4,254.7ZM109.7,250.6L111.2,249.7L111.2,252.0L109.7,252.9ZM112.9,248.7L114.4,247.8L114.4,250.1L112.9,251.0ZM116.2,246.8L117.7,246.0L117.7,248.3L116.2,249.1ZM119.4,244.9L120.9,244.1L120.9,246.4L119.4,247.2Z" fill="#43382f"/>
<polygon points="105.0,258.5 85.3,247.1 85.3,254.6 105.0,266.0" fill="#b3a08e" />
<polygon points="105.0,258.5 124.7,247.1 124.7,254.6 105.0,266.0" fill="#a3907f" />
<path d="M86.0,249.1L87.7,250.1L87.7,254.1L86.0,253.1ZM89.2,251.0L90.9,252.0L90.9,256.0L89.2,255.0ZM92.4,252.8L94.1,253.8L94.1,257.8L92.4,256.8ZM95.6,254.7L97.3,255.7L97.3,259.7L95.6,258.7ZM98.8,256.5L100.5,257.5L100.5,261.5L98.8,260.5ZM102.0,258.4L103.7,259.3L103.7,263.3L102.0,262.4Z" fill="#6a584b"/>
<path d="M106.0,259.5L107.7,258.5L107.7,262.5L106.0,263.5ZM109.2,257.7L110.9,256.7L110.9,260.7L109.2,261.7ZM112.4,255.8L114.1,254.8L114.1,258.8L112.4,259.8ZM115.6,254.0L117.3,253.0L117.3,257.0L115.6,258.0ZM118.8,252.1L120.5,251.2L120.5,255.2L118.8,256.1ZM122.0,250.3L123.7,249.3L123.7,253.3L122.0,254.3Z" fill="#625045"/>
<polygon points="92.5,170.8 105.0,163.6 117.5,170.8 105.0,178.0" fill="#ece5d4" />
<polygon points="92.5,170.8 105.0,178.0 105.0,196.0 92.5,188.8" fill="#d8ceb9" />
<polygon points="105.0,178.0 117.5,170.8 117.5,188.8 105.0,196.0" fill="#c8bca5" />
<polygon points="105.0,190.3 92.5,183.1 92.5,188.8 105.0,196.0" fill="#62c0bc" />
<polygon points="105.0,190.3 117.5,183.1 117.5,188.8 105.0,196.0" fill="#4db0ae" />
<path d="M93.2,173.2L94.7,174.1L94.7,176.4L93.2,175.5ZM96.5,175.1L98.0,176.0L98.0,178.3L96.5,177.4ZM99.7,177.0L101.2,177.9L101.2,180.2L99.7,179.3ZM93.2,178.3L94.7,179.2L94.7,181.5L93.2,180.6ZM96.5,180.2L98.0,181.1L98.0,183.4L96.5,182.5ZM99.7,182.1L101.2,183.0L101.2,185.3L99.7,184.4Z" fill="#4a3e34"/>
<path d="M106.0,179.5L107.5,178.6L107.5,180.9L106.0,181.8ZM109.2,177.6L110.8,176.7L110.8,179.0L109.2,179.9ZM112.5,175.7L114.0,174.9L114.0,177.2L112.5,178.0ZM106.0,184.6L107.5,183.7L107.5,186.0L106.0,186.9ZM109.2,182.7L110.8,181.8L110.8,184.1L109.2,185.0ZM112.5,180.8L114.0,180.0L114.0,182.3L112.5,183.1Z" fill="#43382f"/>
<polygon points="102.0,188.6 101.5,188.3 101.5,194.0 102.0,194.3" fill="#9adbd6" />
<polygon points="108.0,188.6 108.5,188.3 108.5,194.0 108.0,194.3" fill="#8bd0cb" />
<polygon points="99.0,186.8 98.5,186.5 98.5,192.2 99.0,192.5" fill="#9adbd6" />
<polygon points="111.0,186.8 111.5,186.5 111.5,192.2 111.0,192.5" fill="#8bd0cb" />
<polygon points="96.0,185.1 95.5,184.8 95.5,190.5 96.0,190.8" fill="#9adbd6" />
<polygon points="114.0,185.1 114.5,184.8 114.5,190.5 114.0,190.8" fill="#8bd0cb" />
<polygon points="92.5,170.8 105.0,178.0 117.5,170.8 105.0,163.6" fill="none" stroke="#4a3d33" stroke-width="0.6"/>
<path d="M97.9,143.7 Q97.9,142.5 99.1,142.2 L107.1,140.6 Q110.6,140.2 111.1,142.5 L111.1,183.0 Q110.6,184.5 108.1,184.5 L99.1,181.3 Q98.2,180.9 98.2,179.9 Z" fill="#e4e6e8" stroke="#d3d6d9" stroke-width="0.4"/>
<path d="M97.9,143.7 Q97.9,142.5 99.1,142.2 L107.1,140.6 Q108.7,140.7 108.7,143.0 L108.5,184.5 L99.1,181.3 Q98.2,180.9 98.2,179.9 Z" fill="url(#gBr)"/>
<polygon points="286.0,252.4 331.0,226.4 380.0,257.0 335.0,283.0" fill="#94979a" />
<polygon points="286.0,252.4 335.0,283.0 344.0,277.8 295.0,247.2" fill="#3e4042" />
<line x1="290.5" y1="249.8" x2="339.5" y2="280.4" stroke="#e8e8e8" stroke-width="0.9" stroke-dasharray="3 2.5"/>
<polygon points="335.0,283.0 380.0,257.0 370.2,250.9 325.2,276.9" fill="#3e4042" />
<line x1="330.1" y1="279.9" x2="375.1" y2="253.9" stroke="#e8e8e8" stroke-width="0.9" stroke-dasharray="3 2.5"/>
<polygon points="300.0,252.5 322.0,265.0 326.0,262.5 304.0,250.0" fill="#8ccf4d" />
<polygon points="342.0,266.0 366.0,252.5 370.0,255.0 346.0,268.5" fill="#8ccf4d" />
<circle cx="302" cy="248" r="2.6" fill="#8fd14f"/>
<circle cx="308" cy="252" r="2.6" fill="#8fd14f"/>
<circle cx="314" cy="255" r="2.6" fill="#8fd14f"/>
<circle cx="320" cy="259" r="2.6" fill="#8fd14f"/>
<circle cx="347" cy="263" r="2.6" fill="#8fd14f"/>
<circle cx="354" cy="259" r="2.6" fill="#8fd14f"/>
<circle cx="361" cy="255" r="2.6" fill="#8fd14f"/>
<circle cx="367" cy="251" r="2.6" fill="#8fd14f"/>
<polygon points="311.4,187.3 332.0,175.5 353.6,187.9 333.0,199.8" fill="#c5bda9" />
<polygon points="311.4,187.3 333.0,199.8 333.0,256.8 311.4,244.3" fill="#d8cfbc" />
<polygon points="333.0,199.8 353.6,187.9 353.6,244.9 333.0,256.8" fill="#cbc1ac" />
<polygon points="311.4,187.3 332.0,175.5 353.6,187.9 333.0,199.8" fill="#c7bfab" stroke="#e3ddcd" stroke-width="0.8"/>
<ellipse cx="321.5" cy="186.5" rx="2.1" ry="1.2" fill="#e4dfd1"/><ellipse cx="321.5" cy="187.0" rx="2.1" ry="0.9" fill="#aaa290" opacity="0.6"/>
<ellipse cx="328" cy="190" rx="2.1" ry="1.2" fill="#e4dfd1"/><ellipse cx="328" cy="190.5" rx="2.1" ry="0.9" fill="#aaa290" opacity="0.6"/>
<ellipse cx="334.5" cy="193.5" rx="2.1" ry="1.2" fill="#e4dfd1"/><ellipse cx="334.5" cy="194.0" rx="2.1" ry="0.9" fill="#aaa290" opacity="0.6"/>
<ellipse cx="330.5" cy="182.5" rx="2.1" ry="1.2" fill="#e4dfd1"/><ellipse cx="330.5" cy="183.0" rx="2.1" ry="0.9" fill="#aaa290" opacity="0.6"/>
<ellipse cx="338" cy="186" rx="2.1" ry="1.2" fill="#e4dfd1"/><ellipse cx="338" cy="186.5" rx="2.1" ry="0.9" fill="#aaa290" opacity="0.6"/>
<ellipse cx="345" cy="189.5" rx="2.1" ry="1.2" fill="#e4dfd1"/><ellipse cx="345" cy="190.0" rx="2.1" ry="0.9" fill="#aaa290" opacity="0.6"/>
<polygon points="332.2,201.8 312.2,190.3 312.2,198.8 332.2,210.3" fill="#60c0bc" />
<polygon points="333.8,201.8 352.8,190.9 352.8,199.4 333.8,210.3" fill="#50b4b2" />
<polygon points="329.6,200.3 329.1,200.0 329.1,208.5 329.6,208.8" fill="#3a9a98" />
<polygon points="326.2,198.4 325.7,198.1 325.7,206.6 326.2,206.9" fill="#3a9a98" />
<polygon points="322.8,196.4 322.3,196.1 322.3,204.6 322.8,204.9" fill="#3a9a98" />
<polygon points="319.4,194.5 318.9,194.2 318.9,202.7 319.4,203.0" fill="#3a9a98" />
<polygon points="316.0,192.5 315.5,192.2 315.5,200.7 316.0,201.0" fill="#3a9a98" />
<polygon points="336.4,200.3 336.9,200.0 336.9,208.5 336.4,208.8" fill="#35908f" />
<polygon points="339.8,198.4 340.3,198.1 340.3,206.6 339.8,206.9" fill="#35908f" />
<polygon points="343.2,196.4 343.7,196.1 343.7,204.6 343.2,204.9" fill="#35908f" />
<polygon points="346.6,194.5 347.1,194.2 347.1,202.7 346.6,203.0" fill="#35908f" />
<polygon points="350.0,192.5 350.5,192.2 350.5,200.7 350.0,201.0" fill="#35908f" />
<polygon points="333.0,210.8 311.4,198.3 311.4,199.9 333.0,212.4" fill="#e2dccb" />
<polygon points="333.0,210.8 353.6,198.9 353.6,200.5 333.0,212.4" fill="#d6cdb9" />
<polygon points="330.6,213.9 328.9,212.9 328.9,251.9 330.6,252.9" fill="#5b4c40" />
<polygon points="335.3,214.0 336.9,213.0 336.9,252.0 335.3,253.0" fill="#524439" />
<polygon points="327.4,212.1 325.7,211.1 325.7,250.1 327.4,251.1" fill="#5b4c40" />
<polygon points="338.4,212.2 340.0,211.3 340.0,250.3 338.4,251.2" fill="#524439" />
<polygon points="317.5,206.4 315.8,205.4 315.8,242.9 317.5,243.9" fill="#5b4c40" />
<polygon points="347.8,206.8 349.4,205.8 349.4,243.3 347.8,244.3" fill="#524439" />
<polygon points="314.3,204.5 312.6,203.5 312.6,241.0 314.3,242.0" fill="#5b4c40" />
<polygon points="350.8,205.0 352.5,204.1 352.5,241.6 350.8,242.5" fill="#524439" />
<line x1="318.7" y1="209.1" x2="324.4" y2="212.3" stroke="#5b4c40" stroke-width="1.6" stroke-dasharray="30 0.01"/>
<line x1="318.7" y1="213.0" x2="324.4" y2="216.2" stroke="#5b4c40" stroke-width="1.6" stroke-dasharray="30 0.01"/>
<line x1="318.7" y1="216.9" x2="324.4" y2="220.1" stroke="#5b4c40" stroke-width="1.6" stroke-dasharray="30 0.01"/>
<line x1="318.7" y1="220.8" x2="324.4" y2="224.0" stroke="#5b4c40" stroke-width="1.6" stroke-dasharray="30 0.01"/>
<line x1="318.7" y1="224.7" x2="324.4" y2="227.9" stroke="#5b4c40" stroke-width="1.6" stroke-dasharray="30 0.01"/>
<line x1="341.2" y1="212.5" x2="346.6" y2="209.4" stroke="#524439" stroke-width="1.6" stroke-dasharray="30 0.01"/>
<line x1="341.2" y1="216.4" x2="346.6" y2="213.3" stroke="#524439" stroke-width="1.6" stroke-dasharray="30 0.01"/>
<line x1="341.2" y1="220.3" x2="346.6" y2="217.2" stroke="#524439" stroke-width="1.6" stroke-dasharray="30 0.01"/>
<line x1="341.2" y1="224.2" x2="346.6" y2="221.1" stroke="#524439" stroke-width="1.6" stroke-dasharray="30 0.01"/>
<line x1="341.2" y1="228.1" x2="346.6" y2="225.0" stroke="#524439" stroke-width="1.6" stroke-dasharray="30 0.01"/>
<line x1="312.4" y1="207.3" x2="331.0" y2="218.0" stroke="#d8cfbc" stroke-width="0.6" stroke-dasharray="30 0.01"/>
<line x1="312.4" y1="211.2" x2="331.0" y2="221.9" stroke="#d8cfbc" stroke-width="0.6" stroke-dasharray="30 0.01"/>
<line x1="312.4" y1="215.1" x2="331.0" y2="225.8" stroke="#d8cfbc" stroke-width="0.6" stroke-dasharray="30 0.01"/>
<line x1="312.4" y1="219.0" x2="331.0" y2="229.7" stroke="#d8cfbc" stroke-width="0.6" stroke-dasharray="30 0.01"/>
<line x1="312.4" y1="222.9" x2="331.0" y2="233.6" stroke="#d8cfbc" stroke-width="0.6" stroke-dasharray="30 0.01"/>
<line x1="312.4" y1="226.8" x2="331.0" y2="237.5" stroke="#d8cfbc" stroke-width="0.6" stroke-dasharray="30 0.01"/>
<line x1="312.4" y1="230.7" x2="331.0" y2="241.4" stroke="#d8cfbc" stroke-width="0.6" stroke-dasharray="30 0.01"/>
<line x1="312.4" y1="234.6" x2="331.0" y2="245.3" stroke="#d8cfbc" stroke-width="0.6" stroke-dasharray="30 0.01"/>
<line x1="312.4" y1="238.5" x2="331.0" y2="249.2" stroke="#d8cfbc" stroke-width="0.6" stroke-dasharray="30 0.01"/>
<line x1="335.0" y1="218.0" x2="352.6" y2="207.9" stroke="#cbc1ac" stroke-width="0.6" stroke-dasharray="30 0.01"/>
<line x1="335.0" y1="221.9" x2="352.6" y2="211.8" stroke="#cbc1ac" stroke-width="0.6" stroke-dasharray="30 0.01"/>
<line x1="335.0" y1="225.8" x2="352.6" y2="215.7" stroke="#cbc1ac" stroke-width="0.6" stroke-dasharray="30 0.01"/>
<line x1="335.0" y1="229.7" x2="352.6" y2="219.6" stroke="#cbc1ac" stroke-width="0.6" stroke-dasharray="30 0.01"/>
<line x1="335.0" y1="233.6" x2="352.6" y2="223.5" stroke="#cbc1ac" stroke-width="0.6" stroke-dasharray="30 0.01"/>
<line x1="335.0" y1="237.5" x2="352.6" y2="227.4" stroke="#cbc1ac" stroke-width="0.6" stroke-dasharray="30 0.01"/>
<line x1="335.0" y1="241.4" x2="352.6" y2="231.3" stroke="#cbc1ac" stroke-width="0.6" stroke-dasharray="30 0.01"/>
<line x1="335.0" y1="245.3" x2="352.6" y2="235.2" stroke="#cbc1ac" stroke-width="0.6" stroke-dasharray="30 0.01"/>
<line x1="335.0" y1="249.2" x2="352.6" y2="239.1" stroke="#cbc1ac" stroke-width="0.6" stroke-dasharray="30 0.01"/>
<polygon points="327.8,235.3 316.1,228.6 316.1,245.6 327.8,252.3" fill="#60c0bc" />
<polygon points="337.3,235.8 348.3,229.5 348.3,246.5 337.3,252.8" fill="#50b4b2" />
<polygon points="325.0,233.7 324.5,233.4 324.5,250.4 325.0,250.7" fill="#b9e6e2" />
<polygon points="340.0,234.3 340.4,234.0 340.4,251.0 340.0,251.3" fill="#a9dcd8" />
<polygon points="321.9,231.9 321.5,231.7 321.5,248.7 321.9,248.9" fill="#b9e6e2" />
<polygon points="342.9,232.6 343.3,232.3 343.3,249.3 342.9,249.6" fill="#a9dcd8" />
<polygon points="318.9,230.2 318.5,229.9 318.5,246.9 318.9,247.2" fill="#b9e6e2" />
<polygon points="345.7,230.9 346.2,230.7 346.2,247.7 345.7,247.9" fill="#a9dcd8" />
<line x1="316.1" y1="232.6" x2="327.8" y2="239.3" stroke="#b9e6e2" stroke-width="0.45" stroke-dasharray="30 0.01"/>
<line x1="316.1" y1="236.6" x2="327.8" y2="243.3" stroke="#b9e6e2" stroke-width="0.45" stroke-dasharray="30 0.01"/>
<line x1="316.1" y1="240.6" x2="327.8" y2="247.3" stroke="#b9e6e2" stroke-width="0.45" stroke-dasharray="30 0.01"/>
<line x1="337.3" y1="239.8" x2="348.3" y2="233.5" stroke="#a9dcd8" stroke-width="0.45" stroke-dasharray="30 0.01"/>
<line x1="337.3" y1="243.8" x2="348.3" y2="237.5" stroke="#a9dcd8" stroke-width="0.45" stroke-dasharray="30 0.01"/>
<line x1="337.3" y1="247.8" x2="348.3" y2="241.5" stroke="#a9dcd8" stroke-width="0.45" stroke-dasharray="30 0.01"/>
<path d="M324.8,147.2 Q324.8,146.0 326.0,145.7 L334.7,144.1 Q338.3,143.7 338.8,146.0 L338.8,184.5 Q338.3,186.0 335.7,186.0 L326.0,182.8 Q325.1,182.4 325.1,181.4 Z" fill="#e4e6e8" stroke="#d3d6d9" stroke-width="0.4"/>
<path d="M324.8,147.2 Q324.8,146.0 326.0,145.7 L334.7,144.1 Q336.3,144.2 336.3,146.5 L336.1,186.0 L326.0,182.8 Q325.1,182.4 325.1,181.4 Z" fill="url(#gBr)"/>
<path d="M339.2,158 v8" stroke="#a9aeb6" stroke-width="1.2"/>
<polygon points="162.4,295.3 207.6,267.1 260.7,299.8 215.5,328.0" fill="#94979a" />
<polygon points="162.4,295.3 215.5,328.0 224.5,322.4 171.4,289.7" fill="#3e4042" />
<line x1="166.9" y1="292.5" x2="220.0" y2="325.2" stroke="#e8e8e8" stroke-width="0.9" stroke-dasharray="3 2.5"/>
<polygon points="190.2,279.9 174.8,289.5 180.2,292.8 195.5,283.2" fill="#93cf55" />
<line x1="187.5" y1="282.9" x2="187.5" y2="285.7" stroke="#7a8a4a" stroke-width="0.7" />
<circle cx="187.5" cy="281.3" r="2.7" fill="#9fd962"/>
<line x1="179.8" y1="287.7" x2="179.8" y2="290.5" stroke="#7a8a4a" stroke-width="0.7" />
<circle cx="179.8" cy="286.1" r="2.7" fill="#9fd962"/>
<polygon points="226.5,320.2 257.6,300.7 252.3,297.4 221.1,316.9" fill="#93cf55" />
<line x1="227.5" y1="314.2" x2="227.5" y2="317.0" stroke="#7a8a4a" stroke-width="0.7" />
<circle cx="227.5" cy="312.6" r="2.7" fill="#9fd962"/>
<line x1="235.7" y1="309.1" x2="235.7" y2="311.9" stroke="#7a8a4a" stroke-width="0.7" />
<circle cx="235.7" cy="307.5" r="2.7" fill="#9fd962"/>
<line x1="243.8" y1="304.1" x2="243.8" y2="306.9" stroke="#7a8a4a" stroke-width="0.7" />
<circle cx="243.8" cy="302.5" r="2.7" fill="#9fd962"/>
<line x1="251.9" y1="299.0" x2="251.9" y2="301.8" stroke="#7a8a4a" stroke-width="0.7" />
<circle cx="251.9" cy="297.4" r="2.7" fill="#9fd962"/>
<path d="M188,314 V306 h-2.5" stroke="#d9dcdf" stroke-width="0.7" fill="none"/>
<path d="M197,319 V311 h-2.5" stroke="#d9dcdf" stroke-width="0.7" fill="none"/>
<path d="M207,324 V316 h-2.5" stroke="#d9dcdf" stroke-width="0.7" fill="none"/>
<path d="M216,308 V300 h-2.5" stroke="#d9dcdf" stroke-width="0.7" fill="none"/>
<polygon points="191.7,225.5 214.2,212.5 248.0,232.0 225.5,245.0" fill="#cfc7b4" />
<polygon points="191.7,225.5 225.5,245.0 225.5,307.5 191.7,288.0" fill="#e6dfcd" />
<polygon points="225.5,245.0 248.0,232.0 248.0,294.5 225.5,307.5" fill="#d4cab6" />
<polygon points="195.0,222.1 213.0,211.7 241.5,228.1 223.5,238.5" fill="#c9c1ae" />
<polygon points="195.0,222.1 223.5,238.5 223.5,244.1 195.0,227.7" fill="#e5decd" />
<polygon points="223.5,238.5 241.5,228.1 241.5,233.7 223.5,244.1" fill="#d3c9b5" />
<path d="M196.0,224.2L197.5,225.1L197.5,227.5L196.0,226.6ZM199.1,226.0L200.6,226.9L200.6,229.3L199.1,228.4ZM202.2,227.8L203.7,228.7L203.7,231.1L202.2,230.2ZM205.3,229.6L206.8,230.5L206.8,232.9L205.3,232.0ZM208.4,231.4L209.9,232.3L209.9,234.7L208.4,233.8ZM211.5,233.2L213.0,234.0L213.0,236.4L211.5,235.6ZM214.6,235.0L216.1,235.8L216.1,238.2L214.6,237.4ZM217.7,236.8L219.2,237.6L219.2,240.0L217.7,239.2Z" fill="#4e4237"/>
<path d="M225.0,239.2L226.5,238.4L226.5,240.8L225.0,241.6ZM228.1,237.4L229.6,236.6L229.6,239.0L228.1,239.8ZM231.2,235.7L232.7,234.8L232.7,237.2L231.2,238.1ZM234.3,233.9L235.8,233.0L235.8,235.4L234.3,236.3ZM237.4,232.1L238.9,231.2L238.9,233.6L237.4,234.5Z" fill="#463b31"/>
<ellipse cx="224.5" cy="225" rx="2" ry="1.1" fill="#b3ab98"/>
<polygon points="223.0,252.1 193.7,235.2 193.7,238.8 223.0,255.7" fill="#7accc6" />
<polygon points="219.5,250.0 219.0,249.7 219.0,253.3 219.5,253.6" fill="#e6dfcd" />
<polygon points="215.3,247.6 214.8,247.3 214.8,250.9 215.3,251.2" fill="#e6dfcd" />
<polygon points="211.1,245.2 210.6,244.9 210.6,248.5 211.1,248.8" fill="#e6dfcd" />
<polygon points="206.9,242.8 206.4,242.5 206.4,246.1 206.9,246.4" fill="#e6dfcd" />
<polygon points="202.7,240.3 202.2,240.1 202.2,243.7 202.7,243.9" fill="#e6dfcd" />
<polygon points="198.5,237.9 198.0,237.6 198.0,241.2 198.5,241.5" fill="#e6dfcd" />
<polygon points="223.0,259.6 193.7,242.7 193.7,246.3 223.0,263.2" fill="#7accc6" />
<polygon points="219.5,257.5 219.0,257.2 219.0,260.8 219.5,261.1" fill="#e6dfcd" />
<polygon points="215.3,255.1 214.8,254.8 214.8,258.4 215.3,258.7" fill="#e6dfcd" />
<polygon points="211.1,252.7 210.6,252.4 210.6,256.0 211.1,256.3" fill="#e6dfcd" />
<polygon points="206.9,250.3 206.4,250.0 206.4,253.6 206.9,253.9" fill="#e6dfcd" />
<polygon points="202.7,247.8 202.2,247.6 202.2,251.2 202.7,251.4" fill="#e6dfcd" />
<polygon points="198.5,245.4 198.0,245.1 198.0,248.7 198.5,249.0" fill="#e6dfcd" />
<polygon points="223.0,267.1 193.7,250.2 193.7,253.8 223.0,270.7" fill="#7accc6" />
<polygon points="219.5,265.0 219.0,264.7 219.0,268.3 219.5,268.6" fill="#e6dfcd" />
<polygon points="215.3,262.6 214.8,262.3 214.8,265.9 215.3,266.2" fill="#e6dfcd" />
<polygon points="211.1,260.2 210.6,259.9 210.6,263.5 211.1,263.8" fill="#e6dfcd" />
<polygon points="206.9,257.8 206.4,257.5 206.4,261.1 206.9,261.4" fill="#e6dfcd" />
<polygon points="202.7,255.3 202.2,255.1 202.2,258.7 202.7,258.9" fill="#e6dfcd" />
<polygon points="198.5,252.9 198.0,252.6 198.0,256.2 198.5,256.5" fill="#e6dfcd" />
<polygon points="223.0,274.6 193.7,257.7 193.7,261.3 223.0,278.2" fill="#7accc6" />
<polygon points="219.5,272.5 219.0,272.2 219.0,275.8 219.5,276.1" fill="#e6dfcd" />
<polygon points="215.3,270.1 214.8,269.8 214.8,273.4 215.3,273.7" fill="#e6dfcd" />
<polygon points="211.1,267.7 210.6,267.4 210.6,271.0 211.1,271.3" fill="#e6dfcd" />
<polygon points="206.9,265.3 206.4,265.0 206.4,268.6 206.9,268.9" fill="#e6dfcd" />
<polygon points="202.7,262.8 202.2,262.6 202.2,266.2 202.7,266.4" fill="#e6dfcd" />
<polygon points="198.5,260.4 198.0,260.1 198.0,263.7 198.5,264.0" fill="#e6dfcd" />
<polygon points="223.0,282.1 193.7,265.2 193.7,268.8 223.0,285.7" fill="#7accc6" />
<polygon points="219.5,280.0 219.0,279.7 219.0,283.3 219.5,283.6" fill="#e6dfcd" />
<polygon points="215.3,277.6 214.8,277.3 214.8,280.9 215.3,281.2" fill="#e6dfcd" />
<polygon points="211.1,275.2 210.6,274.9 210.6,278.5 211.1,278.8" fill="#e6dfcd" />
<polygon points="206.9,272.8 206.4,272.5 206.4,276.1 206.9,276.4" fill="#e6dfcd" />
<polygon points="202.7,270.3 202.2,270.1 202.2,273.7 202.7,273.9" fill="#e6dfcd" />
<polygon points="198.5,267.9 198.0,267.6 198.0,271.2 198.5,271.5" fill="#e6dfcd" />
<polygon points="223.0,289.6 193.7,272.7 193.7,276.3 223.0,293.2" fill="#7accc6" />
<polygon points="219.5,287.5 219.0,287.2 219.0,290.8 219.5,291.1" fill="#e6dfcd" />
<polygon points="215.3,285.1 214.8,284.8 214.8,288.4 215.3,288.7" fill="#e6dfcd" />
<polygon points="211.1,282.7 210.6,282.4 210.6,286.0 211.1,286.3" fill="#e6dfcd" />
<polygon points="206.9,280.3 206.4,280.0 206.4,283.6 206.9,283.9" fill="#e6dfcd" />
<polygon points="202.7,277.8 202.2,277.6 202.2,281.2 202.7,281.4" fill="#e6dfcd" />
<polygon points="198.5,275.4 198.0,275.1 198.0,278.7 198.5,279.0" fill="#e6dfcd" />
<polygon points="233.5,247.4 246.5,239.9 246.5,290.9 233.5,298.4" fill="#5ebcb9" />
<polygon points="236.8,245.5 237.2,245.2 237.2,296.2 236.8,296.5" fill="#b5e3df" />
<polygon points="240.1,243.6 240.6,243.3 240.6,294.3 240.1,294.6" fill="#b5e3df" />
<polygon points="243.4,241.7 243.8,241.4 243.8,292.4 243.4,292.7" fill="#b5e3df" />
<line x1="233.5" y1="250.9" x2="246.5" y2="243.4" stroke="#a8ddd9" stroke-width="0.45" stroke-dasharray="30 0.01"/>
<line x1="233.5" y1="254.5" x2="246.5" y2="247.0" stroke="#a8ddd9" stroke-width="0.45" stroke-dasharray="30 0.01"/>
<line x1="233.5" y1="258.1" x2="246.5" y2="250.6" stroke="#a8ddd9" stroke-width="0.45" stroke-dasharray="30 0.01"/>
<line x1="233.5" y1="261.7" x2="246.5" y2="254.2" stroke="#a8ddd9" stroke-width="0.45" stroke-dasharray="30 0.01"/>
<line x1="233.5" y1="265.3" x2="246.5" y2="257.8" stroke="#a8ddd9" stroke-width="0.45" stroke-dasharray="30 0.01"/>
<line x1="233.5" y1="268.9" x2="246.5" y2="261.4" stroke="#a8ddd9" stroke-width="0.45" stroke-dasharray="30 0.01"/>
<line x1="233.5" y1="272.5" x2="246.5" y2="265.0" stroke="#a8ddd9" stroke-width="0.45" stroke-dasharray="30 0.01"/>
<line x1="233.5" y1="276.1" x2="246.5" y2="268.6" stroke="#a8ddd9" stroke-width="0.45" stroke-dasharray="30 0.01"/>
<line x1="233.5" y1="279.7" x2="246.5" y2="272.2" stroke="#a8ddd9" stroke-width="0.45" stroke-dasharray="30 0.01"/>
<line x1="233.5" y1="283.3" x2="246.5" y2="275.8" stroke="#a8ddd9" stroke-width="0.45" stroke-dasharray="30 0.01"/>
<line x1="233.5" y1="286.9" x2="246.5" y2="279.4" stroke="#a8ddd9" stroke-width="0.45" stroke-dasharray="30 0.01"/>
<line x1="233.5" y1="290.5" x2="246.5" y2="283.0" stroke="#a8ddd9" stroke-width="0.45" stroke-dasharray="30 0.01"/>
<line x1="233.5" y1="294.1" x2="246.5" y2="286.6" stroke="#a8ddd9" stroke-width="0.45" stroke-dasharray="30 0.01"/>
<polygon points="233.5,263.4 246.5,255.9 246.5,257.2 233.5,264.7" fill="#d4cab6" />
<polygon points="233.5,280.9 246.5,273.4 246.5,274.7 233.5,282.2" fill="#d4cab6" />
<path d="M229.1,250.9L230.7,250.0L230.7,252.0L229.1,252.9ZM229.1,255.1L230.7,254.2L230.7,256.2L229.1,257.1ZM229.1,259.3L230.7,258.4L230.7,260.4L229.1,261.3ZM229.1,263.5L230.7,262.6L230.7,264.6L229.1,265.5ZM229.1,267.7L230.7,266.8L230.7,268.8L229.1,269.7ZM229.1,271.9L230.7,271.0L230.7,273.0L229.1,273.9ZM229.1,276.1L230.7,275.2L230.7,277.2L229.1,278.1ZM229.1,280.3L230.7,279.4L230.7,281.4L229.1,282.3ZM229.1,284.5L230.7,283.6L230.7,285.6L229.1,286.5ZM229.1,288.7L230.7,287.8L230.7,289.8L229.1,290.7ZM229.1,292.9L230.7,292.0L230.7,294.0L229.1,294.9ZM229.1,297.1L230.7,296.2L230.7,298.2L229.1,299.1Z" fill="#5a4b3e"/>
<polygon points="225.5,297.5 191.7,278.0 191.7,288.0 225.5,307.5" fill="#9a8777" />
<path d="M192.5,280.2L194.7,281.5L194.7,288.0L192.5,286.7ZM196.3,282.4L198.5,283.7L198.5,290.2L196.3,288.9ZM200.1,284.6L202.3,285.9L202.3,292.4L200.1,291.1ZM203.9,286.8L206.1,288.1L206.1,294.6L203.9,293.3ZM207.7,289.0L209.9,290.2L209.9,296.7L207.7,295.5ZM211.5,291.2L213.7,292.4L213.7,298.9L211.5,297.7ZM215.3,293.4L217.5,294.6L217.5,301.1L215.3,299.9ZM219.1,295.6L221.3,296.8L221.3,303.3L219.1,302.1Z" fill="#5d4c40"/>
<path d="M207.8,191.2 Q207.8,190.0 209.0,189.7 L217.0,188.1 Q220.5,187.7 221.0,190.0 L221.0,228.0 Q220.5,229.5 218.0,229.5 L209.0,226.3 Q208.1,225.9 208.1,224.9 Z" fill="#e4e6e8" stroke="#d3d6d9" stroke-width="0.4"/>
<path d="M207.8,191.2 Q207.8,190.0 209.0,189.7 L217.0,188.1 Q218.6,188.2 218.6,190.5 L218.4,229.5 L209.0,226.3 Q208.1,225.9 208.1,224.9 Z" fill="url(#gBr)"/>
<rect x="181.5" y="244.2" width="72.5" height="10.6" fill="#fff" opacity="0.95"/>
<polygon points="545.7,284.5 594.7,253.2 647.0,288.5 598.0,319.8" fill="#94979a" />
<polygon points="545.7,284.5 598.0,319.8 607.8,313.5 555.5,278.2" fill="#3e4042" />
<line x1="550.6" y1="281.4" x2="602.9" y2="316.7" stroke="#e8e8e8" stroke-width="0.9" stroke-dasharray="3 2.5"/>
<polygon points="598.0,319.8 647.0,288.5 636.5,281.4 587.5,312.7" fill="#3e4042" />
<line x1="592.8" y1="316.3" x2="641.8" y2="285.0" stroke="#e8e8e8" stroke-width="0.9" stroke-dasharray="3 2.5"/>
<polygon points="560.0,284.5 583.0,298.0 587.0,295.5 564.0,282.0" fill="#8ccf4d" />
<polygon points="606.0,302.0 630.0,288.0 634.0,290.5 610.0,304.5" fill="#8ccf4d" />
<circle cx="561" cy="278" r="2.7" fill="#8fd14f"/>
<circle cx="568" cy="283" r="2.7" fill="#8fd14f"/>
<circle cx="575" cy="287" r="2.7" fill="#8fd14f"/>
<circle cx="582" cy="291" r="2.7" fill="#8fd14f"/>
<circle cx="610" cy="298" r="2.7" fill="#8fd14f"/>
<circle cx="617" cy="294" r="2.7" fill="#8fd14f"/>
<circle cx="624" cy="290" r="2.7" fill="#8fd14f"/>
<circle cx="630" cy="286" r="2.7" fill="#8fd14f"/>
<path d="M556,280 V272 h-2.5" stroke="#d9dcdf" stroke-width="0.7" fill="none"/>
<path d="M591,308 V300 h-2.5" stroke="#d9dcdf" stroke-width="0.7" fill="none"/>
<path d="M600,308 V300 h-2.5" stroke="#d9dcdf" stroke-width="0.7" fill="none"/>
<path d="M628,284 V276 h-2.5" stroke="#d9dcdf" stroke-width="0.7" fill="none"/>
<polygon points="572.0,220.2 593.5,207.8 616.5,221.1 595.0,233.5" fill="#c5bda9" />
<polygon points="572.0,220.2 595.0,233.5 595.0,293.0 572.0,279.7" fill="#d8cfbc" />
<polygon points="595.0,233.5 616.5,221.1 616.5,280.6 595.0,293.0" fill="#cbc1ac" />
<polygon points="572.0,220.2 593.5,207.8 616.5,221.1 595.0,233.5" fill="#c7bfab" stroke="#e3ddcd" stroke-width="0.8"/>
<ellipse cx="607" cy="222" rx="2.1" ry="1.2" fill="#e4dfd1"/><ellipse cx="607" cy="222.5" rx="2.1" ry="0.9" fill="#aaa290" opacity="0.6"/>
<ellipse cx="613" cy="225.5" rx="2.1" ry="1.2" fill="#e4dfd1"/><ellipse cx="613" cy="226.0" rx="2.1" ry="0.9" fill="#aaa290" opacity="0.6"/>
<polygon points="594.2,235.5 572.8,223.2 572.8,231.7 594.2,244.0" fill="#60c0bc" />
<polygon points="595.8,235.5 615.7,224.1 615.7,232.6 595.8,244.0" fill="#50b4b2" />
<polygon points="591.6,234.0 591.1,233.7 591.1,242.2 591.6,242.5" fill="#3a9a98" />
<polygon points="588.2,232.1 587.7,231.8 587.7,240.3 588.2,240.6" fill="#3a9a98" />
<polygon points="584.8,230.1 584.3,229.8 584.3,238.3 584.8,238.6" fill="#3a9a98" />
<polygon points="581.4,228.2 580.9,227.9 580.9,236.4 581.4,236.7" fill="#3a9a98" />
<polygon points="578.0,226.2 577.5,225.9 577.5,234.4 578.0,234.7" fill="#3a9a98" />
<polygon points="574.6,224.2 574.1,223.9 574.1,232.4 574.6,232.7" fill="#3a9a98" />
<polygon points="598.4,234.0 598.9,233.7 598.9,242.2 598.4,242.5" fill="#35908f" />
<polygon points="601.8,232.1 602.3,231.8 602.3,240.3 601.8,240.6" fill="#35908f" />
<polygon points="605.2,230.1 605.7,229.8 605.7,238.3 605.2,238.6" fill="#35908f" />
<polygon points="608.6,228.2 609.1,227.9 609.1,236.4 608.6,236.7" fill="#35908f" />
<polygon points="612.0,226.2 612.5,225.9 612.5,234.4 612.0,234.7" fill="#35908f" />
<polygon points="595.0,244.5 572.0,231.2 572.0,232.8 595.0,246.1" fill="#e2dccb" />
<polygon points="595.0,244.5 616.5,232.1 616.5,233.7 595.0,246.1" fill="#d6cdb9" />
<polygon points="592.4,247.5 590.6,246.5 590.6,288.0 592.4,289.0" fill="#5b4c40" />
<polygon points="597.4,247.6 599.1,246.6 599.1,288.1 597.4,289.1" fill="#524439" />
<polygon points="589.0,245.5 587.2,244.5 587.2,286.0 589.0,287.0" fill="#5b4c40" />
<polygon points="600.6,245.8 602.3,244.8 602.3,286.3 600.6,287.3" fill="#524439" />
<polygon points="578.5,239.5 576.7,238.4 576.7,278.4 578.5,279.5" fill="#5b4c40" />
<polygon points="610.4,240.1 612.1,239.1 612.1,279.1 610.4,280.1" fill="#524439" />
<polygon points="575.1,237.5 573.3,236.5 573.3,276.5 575.1,277.5" fill="#5b4c40" />
<polygon points="613.6,238.3 615.3,237.3 615.3,277.3 613.6,278.3" fill="#524439" />
<line x1="579.8" y1="242.2" x2="585.8" y2="245.7" stroke="#5b4c40" stroke-width="1.6" stroke-dasharray="30 0.01"/>
<line x1="579.8" y1="246.1" x2="585.8" y2="249.6" stroke="#5b4c40" stroke-width="1.6" stroke-dasharray="30 0.01"/>
<line x1="579.8" y1="250.0" x2="585.8" y2="253.5" stroke="#5b4c40" stroke-width="1.6" stroke-dasharray="30 0.01"/>
<line x1="579.8" y1="253.9" x2="585.8" y2="257.4" stroke="#5b4c40" stroke-width="1.6" stroke-dasharray="30 0.01"/>
<line x1="579.8" y1="257.8" x2="585.8" y2="261.3" stroke="#5b4c40" stroke-width="1.6" stroke-dasharray="30 0.01"/>
<line x1="579.8" y1="261.7" x2="585.8" y2="265.2" stroke="#5b4c40" stroke-width="1.6" stroke-dasharray="30 0.01"/>
<line x1="603.6" y1="246.0" x2="609.2" y2="242.8" stroke="#524439" stroke-width="1.6" stroke-dasharray="30 0.01"/>
<line x1="603.6" y1="249.9" x2="609.2" y2="246.7" stroke="#524439" stroke-width="1.6" stroke-dasharray="30 0.01"/>
<line x1="603.6" y1="253.8" x2="609.2" y2="250.6" stroke="#524439" stroke-width="1.6" stroke-dasharray="30 0.01"/>
<line x1="603.6" y1="257.7" x2="609.2" y2="254.5" stroke="#524439" stroke-width="1.6" stroke-dasharray="30 0.01"/>
<line x1="603.6" y1="261.6" x2="609.2" y2="258.4" stroke="#524439" stroke-width="1.6" stroke-dasharray="30 0.01"/>
<line x1="603.6" y1="265.5" x2="609.2" y2="262.3" stroke="#524439" stroke-width="1.6" stroke-dasharray="30 0.01"/>
<line x1="573.0" y1="240.2" x2="593.0" y2="251.7" stroke="#d8cfbc" stroke-width="0.6" stroke-dasharray="30 0.01"/>
<line x1="573.0" y1="244.1" x2="593.0" y2="255.6" stroke="#d8cfbc" stroke-width="0.6" stroke-dasharray="30 0.01"/>
<line x1="573.0" y1="248.0" x2="593.0" y2="259.5" stroke="#d8cfbc" stroke-width="0.6" stroke-dasharray="30 0.01"/>
<line x1="573.0" y1="251.9" x2="593.0" y2="263.4" stroke="#d8cfbc" stroke-width="0.6" stroke-dasharray="30 0.01"/>
<line x1="573.0" y1="255.8" x2="593.0" y2="267.3" stroke="#d8cfbc" stroke-width="0.6" stroke-dasharray="30 0.01"/>
<line x1="573.0" y1="259.7" x2="593.0" y2="271.2" stroke="#d8cfbc" stroke-width="0.6" stroke-dasharray="30 0.01"/>
<line x1="573.0" y1="263.6" x2="593.0" y2="275.1" stroke="#d8cfbc" stroke-width="0.6" stroke-dasharray="30 0.01"/>
<line x1="573.0" y1="267.5" x2="593.0" y2="279.0" stroke="#d8cfbc" stroke-width="0.6" stroke-dasharray="30 0.01"/>
<line x1="573.0" y1="271.4" x2="593.0" y2="282.9" stroke="#d8cfbc" stroke-width="0.6" stroke-dasharray="30 0.01"/>
<line x1="573.0" y1="275.3" x2="593.0" y2="286.8" stroke="#d8cfbc" stroke-width="0.6" stroke-dasharray="30 0.01"/>
<line x1="597.0" y1="251.7" x2="615.5" y2="241.1" stroke="#cbc1ac" stroke-width="0.6" stroke-dasharray="30 0.01"/>
<line x1="597.0" y1="255.6" x2="615.5" y2="245.0" stroke="#cbc1ac" stroke-width="0.6" stroke-dasharray="30 0.01"/>
<line x1="597.0" y1="259.5" x2="615.5" y2="248.9" stroke="#cbc1ac" stroke-width="0.6" stroke-dasharray="30 0.01"/>
<line x1="597.0" y1="263.4" x2="615.5" y2="252.8" stroke="#cbc1ac" stroke-width="0.6" stroke-dasharray="30 0.01"/>
<line x1="597.0" y1="267.3" x2="615.5" y2="256.7" stroke="#cbc1ac" stroke-width="0.6" stroke-dasharray="30 0.01"/>
<line x1="597.0" y1="271.2" x2="615.5" y2="260.6" stroke="#cbc1ac" stroke-width="0.6" stroke-dasharray="30 0.01"/>
<line x1="597.0" y1="275.1" x2="615.5" y2="264.5" stroke="#cbc1ac" stroke-width="0.6" stroke-dasharray="30 0.01"/>
<line x1="597.0" y1="279.0" x2="615.5" y2="268.4" stroke="#cbc1ac" stroke-width="0.6" stroke-dasharray="30 0.01"/>
<line x1="597.0" y1="282.9" x2="615.5" y2="272.3" stroke="#cbc1ac" stroke-width="0.6" stroke-dasharray="30 0.01"/>
<line x1="597.0" y1="286.8" x2="615.5" y2="276.2" stroke="#cbc1ac" stroke-width="0.6" stroke-dasharray="30 0.01"/>
<polygon points="589.4,271.3 577.0,264.1 577.0,281.1 589.4,288.3" fill="#60c0bc" />
<polygon points="599.5,271.9 611.0,265.3 611.0,282.3 599.5,288.9" fill="#50b4b2" />
<polygon points="586.4,269.6 586.0,269.3 586.0,286.3 586.4,286.6" fill="#b9e6e2" />
<polygon points="602.3,270.3 602.8,270.0 602.8,287.0 602.3,287.3" fill="#a9dcd8" />
<polygon points="583.2,267.7 582.8,267.5 582.8,284.5 583.2,284.7" fill="#b9e6e2" />
<polygon points="605.3,268.6 605.8,268.3 605.8,285.3 605.3,285.6" fill="#a9dcd8" />
<polygon points="580.0,265.9 579.6,265.6 579.6,282.6 580.0,282.9" fill="#b9e6e2" />
<polygon points="608.3,266.8 608.8,266.6 608.8,283.6 608.3,283.8" fill="#a9dcd8" />
<line x1="577.0" y1="268.1" x2="589.4" y2="275.3" stroke="#b9e6e2" stroke-width="0.45" stroke-dasharray="30 0.01"/>
<line x1="577.0" y1="272.1" x2="589.4" y2="279.3" stroke="#b9e6e2" stroke-width="0.45" stroke-dasharray="30 0.01"/>
<line x1="577.0" y1="276.1" x2="589.4" y2="283.3" stroke="#b9e6e2" stroke-width="0.45" stroke-dasharray="30 0.01"/>
<line x1="599.5" y1="275.9" x2="611.0" y2="269.3" stroke="#a9dcd8" stroke-width="0.45" stroke-dasharray="30 0.01"/>
<line x1="599.5" y1="279.9" x2="611.0" y2="273.3" stroke="#a9dcd8" stroke-width="0.45" stroke-dasharray="30 0.01"/>
<line x1="599.5" y1="283.9" x2="611.0" y2="277.3" stroke="#a9dcd8" stroke-width="0.45" stroke-dasharray="30 0.01"/>
<path d="M585.6,180.2 Q585.6,179.0 586.8,178.7 L597.2,177.1 Q601.3,176.7 601.8,179.0 L601.8,230.0 Q601.3,231.5 598.2,231.5 L586.8,228.3 Q585.9,227.9 585.9,226.9 Z" fill="#e4e6e8" stroke="#d3d6d9" stroke-width="0.4"/>
<path d="M585.6,180.2 Q585.6,179.0 586.8,178.7 L597.2,177.1 Q598.8,177.2 598.8,179.5 L598.6,231.5 L586.8,228.3 Q585.9,227.9 585.9,226.9 Z" fill="url(#gBr)"/>
<path d="M602.6,195 v13" stroke="#a9aeb6" stroke-width="1.3"/>
<polygon points="661.3,283.0 707.7,255.3 760.8,287.6 714.4,315.3" fill="#94979a" />
<polygon points="661.3,283.0 714.4,315.3 723.7,309.8 670.6,277.5" fill="#3e4042" />
<line x1="665.9" y1="280.2" x2="719.0" y2="312.5" stroke="#e8e8e8" stroke-width="0.9" stroke-dasharray="3 2.5"/>
<polygon points="725.7,307.6 757.7,288.5 752.4,285.3 720.4,304.4" fill="#93cf55" />
<line x1="726.9" y1="301.7" x2="726.9" y2="304.5" stroke="#7a8a4a" stroke-width="0.7" />
<circle cx="726.9" cy="300.1" r="2.7" fill="#9fd962"/>
<line x1="735.2" y1="296.7" x2="735.2" y2="299.5" stroke="#7a8a4a" stroke-width="0.7" />
<circle cx="735.2" cy="295.1" r="2.7" fill="#9fd962"/>
<line x1="743.5" y1="291.8" x2="743.5" y2="294.6" stroke="#7a8a4a" stroke-width="0.7" />
<circle cx="743.5" cy="290.2" r="2.7" fill="#9fd962"/>
<line x1="751.8" y1="286.8" x2="751.8" y2="289.6" stroke="#7a8a4a" stroke-width="0.7" />
<circle cx="751.8" cy="285.2" r="2.7" fill="#9fd962"/>
<path d="M672,278 V270 h2.5" stroke="#d9dcdf" stroke-width="0.7" fill="none"/>
<path d="M680,281 V273 h2.5" stroke="#d9dcdf" stroke-width="0.7" fill="none"/>
<circle cx="682" cy="270" r="2.8" fill="#8fd14f"/><circle cx="685" cy="272.5" r="2.8" fill="#8fd14f"/>
<polygon points="730.2,237.9 742.0,231.1 742.0,289.7 730.2,296.5" fill="#c4baa5" />
<polygon points="687.8,228.3 708.2,240.1 708.2,296.1 687.8,284.3" fill="#d8d0bd" />
<polygon points="708.2,240.1 713.2,237.2 713.2,294.2 708.2,297.1" fill="#c3b8a3" />
<polygon points="728.7,234.7 730.2,235.6 730.2,295.6 728.7,294.7" fill="#d6cebb" />
<polygon points="718.8,240.4 728.7,234.7 728.7,295.3 718.8,301.0" fill="#c9bfab" />
<polygon points="713.2,237.2 718.8,240.4 718.8,301.0 713.2,297.8" fill="#d6cebb" />
<polygon points="687.8,228.3 690.0,220.5 703.0,213.0 742.0,229.3 742.0,231.1 730.2,237.9 728.7,234.7 718.8,240.4 713.2,237.2 708.2,240.1" fill="#c6beab" stroke="#ddd6c6" stroke-width="0.7" stroke-linejoin="round"/>
<ellipse cx="701" cy="226.5" rx="2" ry="1.1" fill="#e2dccd"/><ellipse cx="727.5" cy="223.5" rx="2" ry="1.1" fill="#e2dccd"/><ellipse cx="723" cy="220.5" rx="1.6" ry="0.9" fill="#e2dccd"/>
<polygon points="694.1,240.0 702.7,244.9 702.7,290.9 694.1,286.0" fill="#4b3f37" />
<polygon points="694.1,242.5 702.7,247.4 702.7,248.1 694.1,243.2" fill="#a89c88" />
<polygon points="694.1,245.6 702.7,250.5 702.7,251.2 694.1,246.3" fill="#a89c88" />
<polygon points="694.1,248.7 702.7,253.6 702.7,254.3 694.1,249.4" fill="#a89c88" />
<polygon points="694.1,251.8 702.7,256.7 702.7,257.4 694.1,252.5" fill="#a89c88" />
<polygon points="694.1,254.9 702.7,259.8 702.7,260.5 694.1,255.6" fill="#a89c88" />
<polygon points="694.1,258.0 702.7,262.9 702.7,263.6 694.1,258.7" fill="#a89c88" />
<polygon points="694.1,261.1 702.7,266.0 702.7,266.7 694.1,261.8" fill="#a89c88" />
<polygon points="694.1,264.2 702.7,269.1 702.7,269.8 694.1,264.9" fill="#a89c88" />
<polygon points="694.1,267.3 702.7,272.2 702.7,272.9 694.1,268.0" fill="#a89c88" />
<polygon points="694.1,270.4 702.7,275.3 702.7,276.0 694.1,271.1" fill="#a89c88" />
<polygon points="694.1,273.5 702.7,278.4 702.7,279.1 694.1,274.2" fill="#a89c88" />
<polygon points="694.1,276.6 702.7,281.5 702.7,282.2 694.1,277.3" fill="#a89c88" />
<polygon points="694.1,279.7 702.7,284.6 702.7,285.3 694.1,280.4" fill="#a89c88" />
<polygon points="694.1,282.8 702.7,287.7 702.7,288.4 694.1,283.5" fill="#a89c88" />
<polygon points="690.0,241.6 691.3,242.3 691.3,280.3 690.0,279.6" fill="#5cbab5" />
<polygon points="704.3,249.9 705.5,250.6 705.5,288.6 704.3,287.9" fill="#5cbab5" />
<polygon points="714.0,244.7 716.6,246.1 716.6,248.5 714.0,247.1" fill="#54463b" />
<polygon points="724.9,243.9 727.7,242.3 727.7,244.7 724.9,246.3" fill="#54463b" />
<polygon points="714.0,248.8 716.6,250.2 716.6,252.6 714.0,251.2" fill="#54463b" />
<polygon points="724.9,248.0 727.7,246.4 727.7,248.8 724.9,250.4" fill="#54463b" />
<polygon points="714.0,252.9 716.6,254.3 716.6,256.7 714.0,255.3" fill="#54463b" />
<polygon points="724.9,252.1 727.7,250.5 727.7,252.9 724.9,254.5" fill="#54463b" />
<polygon points="714.0,257.0 716.6,258.4 716.6,260.8 714.0,259.4" fill="#54463b" />
<polygon points="724.9,256.2 727.7,254.6 727.7,257.0 724.9,258.6" fill="#54463b" />
<polygon points="714.0,261.1 716.6,262.5 716.6,264.9 714.0,263.5" fill="#54463b" />
<polygon points="724.9,260.3 727.7,258.7 727.7,261.1 724.9,262.7" fill="#54463b" />
<polygon points="714.0,265.2 716.6,266.6 716.6,269.0 714.0,267.6" fill="#54463b" />
<polygon points="724.9,264.4 727.7,262.8 727.7,265.2 724.9,266.8" fill="#54463b" />
<polygon points="714.0,269.3 716.6,270.7 716.6,273.1 714.0,271.7" fill="#54463b" />
<polygon points="724.9,268.5 727.7,266.9 727.7,269.3 724.9,270.9" fill="#54463b" />
<polygon points="714.0,273.4 716.6,274.8 716.6,277.2 714.0,275.8" fill="#54463b" />
<polygon points="724.9,272.6 727.7,271.0 727.7,273.4 724.9,275.0" fill="#54463b" />
<polygon points="714.0,277.5 716.6,278.9 716.6,281.3 714.0,279.9" fill="#54463b" />
<polygon points="724.9,276.7 727.7,275.1 727.7,277.5 724.9,279.1" fill="#54463b" />
<polygon points="714.0,281.6 716.6,283.0 716.6,285.4 714.0,284.0" fill="#54463b" />
<polygon points="724.9,280.8 727.7,279.2 727.7,281.6 724.9,283.2" fill="#54463b" />
<polygon points="714.0,285.7 716.6,287.1 716.6,289.5 714.0,288.1" fill="#54463b" />
<polygon points="724.9,284.9 727.7,283.3 727.7,285.7 724.9,287.3" fill="#54463b" />
<polygon points="714.0,289.8 716.6,291.2 716.6,293.6 714.0,292.2" fill="#54463b" />
<polygon points="724.9,289.0 727.7,287.4 727.7,289.8 724.9,291.4" fill="#54463b" />
<polygon points="731.1,246.4 732.4,245.6 732.4,291.6 731.1,292.4" fill="#5cbab5" />
<polygon points="735.0,244.1 736.3,243.4 736.3,289.4 735.0,290.1" fill="#5cbab5" />
<polygon points="739.2,241.7 740.5,241.0 740.5,287.0 739.2,287.7" fill="#5cbab5" />
<polygon points="732.8,246.4 733.9,245.8 733.9,248.0 732.8,248.6" fill="#6a5b4e" />
<polygon points="732.8,250.5 733.9,249.9 733.9,252.1 732.8,252.7" fill="#6a5b4e" />
<polygon points="732.8,254.6 733.9,254.0 733.9,256.2 732.8,256.8" fill="#6a5b4e" />
<polygon points="732.8,258.7 733.9,258.1 733.9,260.3 732.8,260.9" fill="#6a5b4e" />
<polygon points="732.8,262.8 733.9,262.2 733.9,264.4 732.8,265.0" fill="#6a5b4e" />
<polygon points="732.8,266.9 733.9,266.3 733.9,268.5 732.8,269.1" fill="#6a5b4e" />
<polygon points="732.8,271.0 733.9,270.4 733.9,272.6 732.8,273.2" fill="#6a5b4e" />
<polygon points="732.8,275.1 733.9,274.5 733.9,276.7 732.8,277.3" fill="#6a5b4e" />
<polygon points="732.8,279.2 733.9,278.6 733.9,280.8 732.8,281.4" fill="#6a5b4e" />
<polygon points="732.8,283.3 733.9,282.7 733.9,284.9 732.8,285.5" fill="#6a5b4e" />
<polygon points="732.8,287.4 733.9,286.8 733.9,289.0 732.8,289.6" fill="#6a5b4e" />
<polygon points="736.8,244.1 737.9,243.5 737.9,245.7 736.8,246.3" fill="#6a5b4e" />
<polygon points="736.8,248.2 737.9,247.6 737.9,249.8 736.8,250.4" fill="#6a5b4e" />
<polygon points="736.8,252.3 737.9,251.7 737.9,253.9 736.8,254.5" fill="#6a5b4e" />
<polygon points="736.8,256.4 737.9,255.8 737.9,258.0 736.8,258.6" fill="#6a5b4e" />
<polygon points="736.8,260.5 737.9,259.9 737.9,262.1 736.8,262.7" fill="#6a5b4e" />
<polygon points="736.8,264.6 737.9,264.0 737.9,266.2 736.8,266.8" fill="#6a5b4e" />
<polygon points="736.8,268.7 737.9,268.1 737.9,270.3 736.8,270.9" fill="#6a5b4e" />
<polygon points="736.8,272.8 737.9,272.2 737.9,274.4 736.8,275.0" fill="#6a5b4e" />
<polygon points="736.8,276.9 737.9,276.3 737.9,278.5 736.8,279.1" fill="#6a5b4e" />
<polygon points="736.8,281.0 737.9,280.4 737.9,282.6 736.8,283.2" fill="#6a5b4e" />
<polygon points="736.8,285.1 737.9,284.5 737.9,286.7 736.8,287.3" fill="#6a5b4e" />
<polygon points="740.8,241.8 741.9,241.2 741.9,243.4 740.8,244.0" fill="#6a5b4e" />
<polygon points="740.8,245.9 741.9,245.3 741.9,247.5 740.8,248.1" fill="#6a5b4e" />
<polygon points="740.8,250.0 741.9,249.4 741.9,251.6 740.8,252.2" fill="#6a5b4e" />
<polygon points="740.8,254.1 741.9,253.5 741.9,255.7 740.8,256.3" fill="#6a5b4e" />
<polygon points="740.8,258.2 741.9,257.6 741.9,259.8 740.8,260.4" fill="#6a5b4e" />
<polygon points="740.8,262.3 741.9,261.7 741.9,263.9 740.8,264.5" fill="#6a5b4e" />
<polygon points="740.8,266.4 741.9,265.8 741.9,268.0 740.8,268.6" fill="#6a5b4e" />
<polygon points="740.8,270.5 741.9,269.9 741.9,272.1 740.8,272.7" fill="#6a5b4e" />
<polygon points="740.8,274.6 741.9,274.0 741.9,276.2 740.8,276.8" fill="#6a5b4e" />
<polygon points="740.8,278.7 741.9,278.1 741.9,280.3 740.8,280.9" fill="#6a5b4e" />
<polygon points="740.8,282.8 741.9,282.2 741.9,284.4 740.8,285.0" fill="#6a5b4e" />
<path d="M704.8,182.2 Q704.8,181.0 706.0,180.7 L716.9,179.1 Q721.2,178.7 721.7,181.0 L721.7,233.8 Q721.2,235.3 717.9,235.3 L706.0,232.1 Q705.1,231.7 705.1,230.7 Z" fill="#e4e6e8" stroke="#d3d6d9" stroke-width="0.4"/>
<path d="M704.8,182.2 Q704.8,181.0 706.0,180.7 L716.9,179.1 Q718.5,179.2 718.5,181.5 L718.3,235.3 L706.0,232.1 Q705.1,231.7 705.1,230.7 Z" fill="url(#gBr)"/>
<path d="M722.2,196 v13" stroke="#a9aeb6" stroke-width="1.3"/>
<polygon points="410.7,93.8 536.3,93.8 559.6,125.0 383.0,125.0" fill="url(#gSwT)" />
<clipPath id="cSw"><polygon points="410.7,93.8 536.3,93.8 559.6,125 383,125"/></clipPath>
<g clip-path="url(#cSw)"><ellipse cx="462" cy="112" rx="62" ry="15" fill="#fff" opacity="0.13" filter="url(#fBlur)"/><polygon points="536.3,93.8 559.6,125 545,125 524,93.8" fill="#000" opacity="0.12"/></g>
<polygon points="383.0,125.0 559.6,125.0 559.6,147.5 558.0,149.2 384.5,149.2 383.0,147.5" fill="url(#gSwF)" />
<line x1="383.0" y1="125.2" x2="559.6" y2="125.2" stroke="#6a6e71" stroke-width="0.6" />
<rect x="386" y="127.5" width="170.5" height="19.5" fill="#3d3f41" stroke="#4b4d4f" stroke-width="0.5"/>
<rect x="479" y="130" width="36" height="14.8" fill="#bdbdb6"/>
<rect x="480.2" y="131.2" width="7" height="5.4" fill="#2a2a2a"/>
<rect x="480.2" y="138.2" width="7" height="5.4" fill="#2a2a2a"/>
<rect x="489.0" y="131.2" width="7" height="5.4" fill="#2a2a2a"/>
<rect x="489.0" y="138.2" width="7" height="5.4" fill="#2a2a2a"/>
<rect x="497.8" y="131.2" width="7" height="5.4" fill="#2a2a2a"/>
<rect x="497.8" y="138.2" width="7" height="5.4" fill="#2a2a2a"/>
<rect x="506.6" y="131.2" width="7" height="5.4" fill="#2a2a2a"/>
<rect x="506.6" y="138.2" width="7" height="5.4" fill="#2a2a2a"/>
<rect x="517.2" y="137.4" width="10" height="7.4" fill="#bdbdb6"/><rect x="518.6" y="138.6" width="7.2" height="5" fill="#2a2a2a"/>
<rect x="529.3" y="137.4" width="9.4" height="6.6" fill="#8d8f90"/><rect x="530.3" y="138.4" width="7.4" height="3.6" fill="#1d1d1d"/><rect x="529" y="144" width="10" height="1.6" fill="#b5b5b5"/>
<g fill="#76797b"><rect x="412" y="131.5" width="9" height="0.9"/><rect x="414" y="134" width="6" height="0.9"/><rect x="412" y="139" width="8" height="0.9"/><rect x="414" y="141.6" width="6" height="0.9"/><rect x="431" y="133" width="18" height="0.8"/><rect x="431" y="136.5" width="18" height="0.8"/><rect x="431" y="140" width="18" height="0.8"/><rect x="468" y="134" width="8" height="0.9"/><rect x="470" y="137" width="6" height="0.9"/><rect x="391" y="143.5" width="18" height="1"/></g>
<rect x="452.5" y="133" width="11" height="8" fill="none" stroke="#6d7174" stroke-width="0.6"/><circle cx="464.5" cy="142.5" r="1.2" fill="#15181a"/>
<g transform="translate(742.5,78.3)">
<path d="M6,13 L8.2,19.2 L13.6,21.2 L15.2,17.6 L11.5,12.5 Z" fill="#9da0a3"/>
<path d="M7,14.5 L13.5,19.8 M8.5,18.8 L14,20.6" stroke="#5f6265" stroke-width="0.9"/>
<path d="M1.5,1.8 Q2.5,0.2 5,0.3 L30.8,3.9 Q28.5,12 22.5,18.2 L4.5,12.4 Q1.3,11 1,7 Z" fill="url(#gCam)" stroke="#b4b6b8" stroke-width="0.4"/>
<path d="M3,9.8 L20,15.6" stroke="#a6a8aa" stroke-width="0.7"/>
<path d="M4.4,9 l1.2,0.4 v2.6 l-1.2,-0.4 z M14,12.2 l1.2,0.4 v2.8 l-1.2,-0.4 z" fill="#85888b"/>
<path d="M30.9,3.8 Q30.5,12 23,18.4 Q19,17 20.5,11 Q23,4.6 30.9,3.8 Z" fill="#d9dadb"/>
<path d="M28.2,4.6 Q28.2,12 22.6,17.6 Q19.6,16.4 20.9,11.2 Q22.8,5.8 28.2,4.6 Z" fill="#111d1a"/>
<path d="M25.8,6.4 Q25.6,11.5 22.6,15.4 Q21.2,13.8 22,10.6 Q23,7.6 25.8,6.4 Z" fill="#1f3d35"/>
</g>
<g transform="translate(742.5,106.8)">
<path d="M6,13 L8.2,19.2 L13.6,21.2 L15.2,17.6 L11.5,12.5 Z" fill="#9da0a3"/>
<path d="M7,14.5 L13.5,19.8 M8.5,18.8 L14,20.6" stroke="#5f6265" stroke-width="0.9"/>
<path d="M1.5,1.8 Q2.5,0.2 5,0.3 L30.8,3.9 Q28.5,12 22.5,18.2 L4.5,12.4 Q1.3,11 1,7 Z" fill="url(#gCam)" stroke="#b4b6b8" stroke-width="0.4"/>
<path d="M3,9.8 L20,15.6" stroke="#a6a8aa" stroke-width="0.7"/>
<path d="M4.4,9 l1.2,0.4 v2.6 l-1.2,-0.4 z M14,12.2 l1.2,0.4 v2.8 l-1.2,-0.4 z" fill="#85888b"/>
<path d="M30.9,3.8 Q30.5,12 23,18.4 Q19,17 20.5,11 Q23,4.6 30.9,3.8 Z" fill="#d9dadb"/>
<path d="M28.2,4.6 Q28.2,12 22.6,17.6 Q19.6,16.4 20.9,11.2 Q22.8,5.8 28.2,4.6 Z" fill="#111d1a"/>
<path d="M25.8,6.4 Q25.6,11.5 22.6,15.4 Q21.2,13.8 22,10.6 Q23,7.6 25.8,6.4 Z" fill="#1f3d35"/>
</g>
<g transform="translate(742.5,136.2)">
<path d="M6,13 L8.2,19.2 L13.6,21.2 L15.2,17.6 L11.5,12.5 Z" fill="#9da0a3"/>
<path d="M7,14.5 L13.5,19.8 M8.5,18.8 L14,20.6" stroke="#5f6265" stroke-width="0.9"/>
<path d="M1.5,1.8 Q2.5,0.2 5,0.3 L30.8,3.9 Q28.5,12 22.5,18.2 L4.5,12.4 Q1.3,11 1,7 Z" fill="url(#gCam)" stroke="#b4b6b8" stroke-width="0.4"/>
<path d="M3,9.8 L20,15.6" stroke="#a6a8aa" stroke-width="0.7"/>
<path d="M4.4,9 l1.2,0.4 v2.6 l-1.2,-0.4 z M14,12.2 l1.2,0.4 v2.8 l-1.2,-0.4 z" fill="#85888b"/>
<path d="M30.9,3.8 Q30.5,12 23,18.4 Q19,17 20.5,11 Q23,4.6 30.9,3.8 Z" fill="#d9dadb"/>
<path d="M28.2,4.6 Q28.2,12 22.6,17.6 Q19.6,16.4 20.9,11.2 Q22.8,5.8 28.2,4.6 Z" fill="#111d1a"/>
<path d="M25.8,6.4 Q25.6,11.5 22.6,15.4 Q21.2,13.8 22,10.6 Q23,7.6 25.8,6.4 Z" fill="#1f3d35"/>
</g>
<text x="778.2" y="94.5" font-size="9.6" font-weight="bold" fill="#1a1a1a" text-anchor="start" textLength="46.5" lengthAdjust="spacingAndGlyphs" >IP Camera</text>
<text x="778.2" y="122.0" font-size="9.6" font-weight="bold" fill="#1a1a1a" text-anchor="start" textLength="46.5" lengthAdjust="spacingAndGlyphs" >IP Camera</text>
<text x="778.2" y="152.1" font-size="9.6" font-weight="bold" fill="#1a1a1a" text-anchor="start" textLength="46.5" lengthAdjust="spacingAndGlyphs" >IP Camera</text>
<text x="68" y="139.2" font-size="9.4" font-weight="bold" fill="#2a8fd0" text-anchor="start" textLength="67" lengthAdjust="spacingAndGlyphs" >UBG3302-900H</text>
<text x="180.5" y="86.4" font-size="9.4" font-weight="bold" fill="#2a8fd0" text-anchor="start" textLength="66.5" lengthAdjust="spacingAndGlyphs" >UBG3302-900H</text>
<text x="298.5" y="138.3" font-size="9.4" font-weight="bold" fill="#2a8fd0" text-anchor="start" textLength="66.5" lengthAdjust="spacingAndGlyphs" >UBG3302-900H</text>
<text x="184.5" y="253" font-size="9.4" font-weight="bold" fill="#2a8fd0" text-anchor="start" textLength="66.5" lengthAdjust="spacingAndGlyphs" >UBG3302-900H</text>
<text x="619.5" y="226.2" font-size="9.4" font-weight="bold" fill="#2a8fd0" text-anchor="start" textLength="65.5" lengthAdjust="spacingAndGlyphs" >UBG3102-900H</text>
<text x="431" y="89.6" font-size="9.4" font-weight="bold" fill="#2a8fd0" text-anchor="start" textLength="81" lengthAdjust="spacingAndGlyphs" >UTP3310TS-PSB-L2</text>
<text x="148" y="147.2" font-size="10.3" font-weight="bold" fill="#111" text-anchor="start" textLength="20" lengthAdjust="spacingAndGlyphs" >6km</text>
<text x="262.5" y="147.2" font-size="10.3" font-weight="bold" fill="#111" text-anchor="start" textLength="20" lengthAdjust="spacingAndGlyphs" >6km</text>
<rect x="216.5" y="162.5" width="23" height="13" fill="#fff"/>
<text x="218.3" y="173" font-size="10.3" font-weight="bold" fill="#111" text-anchor="start" textLength="20" lengthAdjust="spacingAndGlyphs" >6km</text>
<text x="642.5" y="194.5" font-size="10.3" font-weight="bold" fill="#111" text-anchor="start" textLength="19.5" lengthAdjust="spacingAndGlyphs" >4km</text>
<rect x="791.3" y="295.3" width="70.4" height="29.4" rx="1.5" fill="#fff" stroke="#9c9c9c" stroke-width="0.7"/>
<line x1="796.0" y1="303.9" x2="823.5" y2="303.9" stroke="#c0504d" stroke-width="1.6" />
<line x1="796.0" y1="316.1" x2="823.5" y2="316.1" stroke="#5aa5c8" stroke-width="1.6" />
<text x="826.3" y="306" font-size="5.6" font-weight="bold" fill="#333" text-anchor="start" textLength="10.5" lengthAdjust="spacingAndGlyphs" >PoE</text>
<text x="826" y="318.2" font-size="5.6" font-weight="bold" fill="#333" text-anchor="start" textLength="32" lengthAdjust="spacingAndGlyphs" >Cat.5/5e/6</text>
<rect x="10.5" y="420" width="863" height="275" rx="5" fill="url(#gP2)" stroke="#dfe3e7" stroke-width="1"/>
<g fill="none">
<circle cx="440" cy="555" r="76" stroke-width="6" stroke="#efefef" stroke-dasharray="150 40 90 30"/>
<circle cx="440" cy="555" r="90" stroke-width="1" stroke="#e9e9e9"/>
<circle cx="440" cy="555" r="103" stroke-width="9" stroke="#f0f0f0" stroke-dasharray="120 25 200 60"/>
<circle cx="440" cy="555" r="116" stroke-width="1" stroke="#e6e6e6" stroke-dasharray="300 80"/>
<circle cx="440" cy="555" r="128" stroke-width="6" stroke="#ececec" stroke-dasharray="2 2"/>
<circle cx="440" cy="555" r="140" stroke-width="1" stroke="#e9e9e9" stroke-dasharray="200 150"/>
</g>
<g fill="none" stroke="#d9dbdd" stroke-width="0.8">
<path d="M318,433 L392,505 M510,420 L470,498 M612,420 L560,470 M300,620 L385,600 M372,690 L415,612 M478,690 L462,615 M500,600 L545,640 L590,690 M505,575 L560,575 L600,612"/>
<path d="M494.8,516.6 L518.5,538 H572 L583.8,522.6 H628 M505,548 H580 M503,566 H548 L566,584 H596"/>
</g>
<g fill="#dcdee0"><circle cx="318" cy="433" r="3"/><circle cx="300" cy="620" r="2.5"/><circle cx="372" cy="690" r="3"/><circle cx="545" cy="640" r="3"/><circle cx="338" cy="540" r="2.5"/></g>
<g fill="#9c9c9c">
<path d="M314.0,547.5 L308.0,551 L314.0,554.5 Z"/>
<path d="M321.2,547.5 L315.2,551 L321.2,554.5 Z"/>
<path d="M328.4,547.5 L322.4,551 L328.4,554.5 Z"/>
<path d="M335.6,547.5 L329.6,551 L335.6,554.5 Z"/>
<path d="M342.8,547.5 L336.8,551 L342.8,554.5 Z"/>
<path d="M537.5,559 L543.5,562.5 L537.5,566 Z"/>
<path d="M544.5,559 L550.5,562.5 L544.5,566 Z"/>
<path d="M551.5,559 L557.5,562.5 L551.5,566 Z"/>
<path d="M558.5,559 L564.5,562.5 L558.5,566 Z"/>
<path d="M565.5,559 L571.5,562.5 L565.5,566 Z"/>
<rect x="332" y="526.3" width="4.5" height="4.5"/><rect x="347.3" y="526.3" width="17.3" height="4.5"/><rect x="366" y="526.3" width="4.3" height="4.5"/><rect x="372" y="526.3" width="4.5" height="4.5"/>
<rect x="504.3" y="583.3" width="4" height="4.4"/><rect x="510" y="583.3" width="4" height="4.4"/><rect x="515.7" y="583.3" width="17" height="4.4"/><rect x="544.2" y="583.3" width="4" height="4.4"/>
<rect x="343.5" y="514.5" width="11.5" height="2.2" opacity="0.7"/><rect x="359.8" y="514.5" width="14.2" height="2.2"/><rect x="506" y="597" width="14" height="2.2"/>
</g>
<g fill="none" stroke="#9c9c9c" stroke-width="0.8"><rect x="301.5" y="526.5" width="4.5" height="4"/><rect x="313.2" y="526.5" width="17" height="4"/><rect x="549.6" y="583.6" width="17.5" height="3.8"/><rect x="573.8" y="583.6" width="4.5" height="3.8"/><rect x="525.6" y="596.8" width="10.5" height="2.6"/></g>
<path d="M520.0,527.2 l2.6,2.8 l-2.6,2.8 h2.0 l2.6,-2.8 l-2.6,-2.8 Z M523.2,527.2 l2.6,2.8 l-2.6,2.8 h2.0 l2.6,-2.8 l-2.6,-2.8 Z M526.4,527.2 l2.6,2.8 l-2.6,2.8 h2.0 l2.6,-2.8 l-2.6,-2.8 Z M529.6,527.2 l2.6,2.8 l-2.6,2.8 h2.0 l2.6,-2.8 l-2.6,-2.8 Z " fill="#9c9c9c" opacity="0.75"/>
<path d="M616.0,553.0 l2.6,2.8 l-2.6,2.8 h2.0 l2.6,-2.8 l-2.6,-2.8 Z M619.2,553.0 l2.6,2.8 l-2.6,2.8 h2.0 l2.6,-2.8 l-2.6,-2.8 Z M622.4,553.0 l2.6,2.8 l-2.6,2.8 h2.0 l2.6,-2.8 l-2.6,-2.8 Z " fill="#9c9c9c" opacity="0.75"/>
<path d="M361.0,581.4 l-2.6,2.8 l2.6,2.8 h-2.0 l-2.6,-2.8 l2.6,-2.8 Z M357.8,581.4 l-2.6,2.8 l2.6,2.8 h-2.0 l-2.6,-2.8 l2.6,-2.8 Z M354.6,581.4 l-2.6,2.8 l2.6,2.8 h-2.0 l-2.6,-2.8 l2.6,-2.8 Z M351.4,581.4 l-2.6,2.8 l2.6,2.8 h-2.0 l-2.6,-2.8 l2.6,-2.8 Z " fill="#9c9c9c" opacity="0.75"/>
<path d="M264.5,555.8 l-2.6,2.8 l2.6,2.8 h-2.0 l-2.6,-2.8 l2.6,-2.8 Z M261.3,555.8 l-2.6,2.8 l2.6,2.8 h-2.0 l-2.6,-2.8 l2.6,-2.8 Z M258.1,555.8 l-2.6,2.8 l2.6,2.8 h-2.0 l-2.6,-2.8 l2.6,-2.8 Z " fill="#9c9c9c" opacity="0.75"/>
<path d="M597.0,505.2 l2.6,2.8 l-2.6,2.8 h2.0 l2.6,-2.8 l-2.6,-2.8 Z M600.2,505.2 l2.6,2.8 l-2.6,2.8 h2.0 l2.6,-2.8 l-2.6,-2.8 Z M603.4,505.2 l2.6,2.8 l-2.6,2.8 h2.0 l2.6,-2.8 l-2.6,-2.8 Z " fill="#9c9c9c" opacity="0.4"/>
<g fill="none" stroke="#a9a9a9" stroke-width="0.6"><path d="M245.4,527.5 H275.2 L291.5,544.8 H332.9 M261.7,538 H318.5 L340.6,558.3 H378 M269.4,558.3 H302.8 M312.9,558.3 H339.6 M253,590 H300.2 L313.7,576.2 H361.7 L385.8,599.2 L390.6,593.8 M304.5,568.5 H326 L331,563.5 H338"/><circle cx="304" cy="558.3" r="1.2"/><circle cx="311.7" cy="558.3" r="1.2"/><circle cx="338.6" cy="515.6" r="1.2"/></g>
<g fill="#a9a9a9"><circle cx="332.9" cy="544.8" r="1.2"/><path d="M261.7,538 l3,-1.5 v3 Z M269.4,558.3 l3,-1.5 v3 Z M253,590 l3,-1.5 v3 Z M304.5,568.5 l2.6,-1.3 v2.6 Z"/></g>
<path d="M258.4,529 L256.0,530.4 L258.4,531.8 Z" fill="#b5b5b5"/>
<path d="M261.5,529 L259.1,530.4 L261.5,531.8 Z" fill="#b5b5b5"/>
<path d="M264.6,529 L262.2,530.4 L264.6,531.8 Z" fill="#b5b5b5"/>
<path d="M267.7,529 L265.3,530.4 L267.7,531.8 Z" fill="#b5b5b5"/>
<path d="M270.8,529 L268.4,530.4 L270.8,531.8 Z" fill="#b5b5b5"/>
<g fill="none" stroke="#9c9c9c" stroke-width="0.6" opacity="0.8"><path d="M516,550.5 h58 M577,556 h28 M518,556 h8"/><circle cx="575" cy="556" r="1.3"/><circle cx="568" cy="556" r="1.3"/></g>
<circle cx="441" cy="558" r="66" fill="#000" opacity="0.28" filter="url(#fBlur)"/>
<circle cx="440" cy="554.5" r="62" fill="#fbfbfb"/>
<circle cx="440" cy="554.5" r="59.5" fill="url(#gCirc)"/>
<path d="M430.1,528.4 A11.5,11.5 0 0 1 430.1,514.6" stroke="#4377bd" stroke-width="3.2" fill="none" stroke-linecap="round"/>
<path d="M448.5,514.6 A11.5,11.5 0 0 1 448.5,528.4" stroke="#4377bd" stroke-width="3.2" fill="none" stroke-linecap="round"/>
<path d="M424.5,532.6 A18.5,18.5 0 0 1 424.5,510.4" stroke="#5789c9" stroke-width="3.7" fill="none" stroke-linecap="round"/>
<path d="M454.1,510.4 A18.5,18.5 0 0 1 454.1,532.6" stroke="#5789c9" stroke-width="3.7" fill="none" stroke-linecap="round"/>
<path d="M418.9,536.8 A25.5,25.5 0 0 1 418.9,506.2" stroke="#76a2d8" stroke-width="4.2" fill="none" stroke-linecap="round"/>
<path d="M459.7,506.2 A25.5,25.5 0 0 1 459.7,536.8" stroke="#76a2d8" stroke-width="4.2" fill="none" stroke-linecap="round"/>
<polygon points="419.5,576.0 459.0,576.0 467.5,588.0 411.2,588.0" fill="#3c3c3c" />
<polygon points="411.2,588.0 467.5,588.0 467.5,593.5 411.2,593.5" fill="#161616" />
<polygon points="439.3,527.5 422.3,582.5 439.8,588.0" fill="url(#gTwL)" />
<polygon points="439.3,527.5 439.8,588.0 457.2,582.0" fill="url(#gTwR)" />
<polygon points="437.4,536.6 438.7,537.0 438.3,543.5 436.1,542.8" fill="#e9e9e9" />
<polygon points="441.3,536.5 440.0,536.9 440.6,543.4 442.7,542.7" fill="#e9e9e9" />
<polygon points="435.3,546.8 438.0,547.6 437.5,556.5 433.5,555.3" fill="#e9e9e9" />
<polygon points="443.6,546.6 440.9,547.6 441.6,556.4 445.5,555.1" fill="#e9e9e9" />
<polygon points="432.7,559.2 437.2,560.6 436.6,570.1 430.8,568.3" fill="#e9e9e9" />
<polygon points="446.4,559.0 441.9,560.6 442.7,570.0 448.4,568.0" fill="#e9e9e9" />
<polygon points="430.0,572.3 436.4,574.3 435.7,584.9 427.9,582.5" fill="#e9e9e9" />
<polygon points="449.3,572.0 443.0,574.2 443.8,584.8 451.6,582.1" fill="#e9e9e9" />
<circle cx="439.3" cy="521.2" r="5.6" fill="#5c93d6"/><circle cx="438" cy="519.6" r="3" fill="#94bdec" opacity="0.8"/>
<text x="417.2" y="606.6" font-size="12.6" font-weight="bold" fill="#111" text-anchor="start" textLength="44" lengthAdjust="spacingAndGlyphs" >4G LTE</text>
<polygon points="34.7,623.0 130.4,679.4 130.4,685.9 34.7,629.5" fill="#9c9c9c" />
<polygon points="130.4,679.4 255.5,610.3 255.5,616.8 130.4,685.9" fill="#bcbcbc" />
<polygon points="34.7,623.0 155.0,560.0 255.5,610.3 130.4,679.4" fill="#5aacca" />
<polygon points="49.1,622.2 153.7,567.4 241.1,611.1 132.3,671.2" fill="#6cc3dc" />
<polygon points="54.6,621.9 153.2,570.2 235.6,611.4 133.0,668.1" fill="#50a9c9" />
<polygon points="34.7,623.0 155.0,560.0 155.0,557.5 34.7,620.5" fill="#3f96b8" />
<polygon points="155.0,560.0 255.5,610.3 255.5,607.8 155.0,557.5" fill="#3a8cae" />
<path d="M211.5,543 V555.5 Q211.5,559.5 207.5,559.5 H137.5 Q133.5,559.5 133.5,563.5 V592" fill="none" stroke="#2b2b2b" stroke-width="2.8"/>
<g transform="translate(158.5,558.5) scale(0.92)">
<path d="M0,0 C-1,-12 -2,-24 0,-33" stroke="#6e8f4e" stroke-width="0.9" fill="none"/>
<path transform="translate(-8.5,-7) rotate(20)" d="M0,-8 C5.720000000000001,-5.6 6.24,4.0 0,9.2 C-6.24,4.0 -5.720000000000001,-5.6 0,-8 Z" fill="#3f8636"/>
<path transform="translate(9,-6) rotate(-25)" d="M0,-8.5 C6.16,-5.949999999999999 6.72,4.25 0,9.774999999999999 C-6.72,4.25 -6.16,-5.949999999999999 0,-8.5 Z" fill="#3a7d32"/>
<path transform="translate(-7.5,-15) rotate(35)" d="M0,-7 C6.050000000000001,-4.8999999999999995 6.6,3.5 0,8.049999999999999 C-6.6,3.5 -6.050000000000001,-4.8999999999999995 0,-7 Z" fill="#4f9c3e"/>
<path transform="translate(8,-15) rotate(-35)" d="M0,-7.5 C6.38,-5.25 6.96,3.75 0,8.625 C-6.96,3.75 -6.38,-5.25 0,-7.5 Z" fill="#4a963b"/>
<path transform="translate(-8,-23) rotate(55)" d="M0,-5.6 C5.06,-3.9199999999999995 5.52,2.8 0,6.4399999999999995 C-5.52,2.8 -5.06,-3.9199999999999995 0,-5.6 Z" fill="#58a545"/>
<path transform="translate(6.5,-24.5) rotate(-50)" d="M0,-5.8 C5.28,-4.06 5.76,2.9 0,6.669999999999999 C-5.76,2.9 -5.28,-4.06 0,-5.8 Z" fill="#4f9c3e"/>
<path transform="translate(-4.5,-30) rotate(40)" d="M0,-4.2 C3.63,-2.94 3.9599999999999995,2.1 0,4.83 C-3.9599999999999995,2.1 -3.63,-2.94 0,-4.2 Z" fill="#4a963b"/>
<path transform="translate(4.5,-32) rotate(-40)" d="M0,-4.4 C3.63,-3.08 3.9599999999999995,2.2 0,5.06 C-3.9599999999999995,2.2 -3.63,-3.08 0,-4.4 Z" fill="#58a545"/>
<path transform="translate(0,-36.5) rotate(-5)" d="M0,-3.4 C1.9800000000000002,-2.38 2.16,1.7 0,3.9099999999999997 C-2.16,1.7 -1.9800000000000002,-2.38 0,-3.4 Z" fill="#4f9c3e"/>
<path transform="translate(-1,-10) rotate(0)" d="M0,-6.5 C4.620000000000001,-4.55 5.04,3.25 0,7.475 C-5.04,3.25 -4.620000000000001,-4.55 0,-6.5 Z" fill="#4a963b"/>
<path transform="translate(2,-19) rotate(-10)" d="M0,-5.4 C3.9600000000000004,-3.78 4.32,2.7 0,6.21 C-4.32,2.7 -3.9600000000000004,-3.78 0,-5.4 Z" fill="#3f8636"/>
<path d="M-3.3,0 h6.6 l-0.8,7.6 q-2.5,1.2 -5,0 Z" fill="#e0aa28"/><ellipse cx="0" cy="0" rx="3.3" ry="1.2" fill="#5b4a2a"/>
</g>
<g transform="translate(49,618) scale(0.95)">
<path d="M0,0 C-1,-12 -2,-24 0,-33" stroke="#6e8f4e" stroke-width="0.9" fill="none"/>
<path transform="translate(-8.5,-7) rotate(20)" d="M0,-8 C5.720000000000001,-5.6 6.24,4.0 0,9.2 C-6.24,4.0 -5.720000000000001,-5.6 0,-8 Z" fill="#3f8636"/>
<path transform="translate(9,-6) rotate(-25)" d="M0,-8.5 C6.16,-5.949999999999999 6.72,4.25 0,9.774999999999999 C-6.72,4.25 -6.16,-5.949999999999999 0,-8.5 Z" fill="#3a7d32"/>
<path transform="translate(-7.5,-15) rotate(35)" d="M0,-7 C6.050000000000001,-4.8999999999999995 6.6,3.5 0,8.049999999999999 C-6.6,3.5 -6.050000000000001,-4.8999999999999995 0,-7 Z" fill="#4f9c3e"/>
<path transform="translate(8,-15) rotate(-35)" d="M0,-7.5 C6.38,-5.25 6.96,3.75 0,8.625 C-6.96,3.75 -6.38,-5.25 0,-7.5 Z" fill="#4a963b"/>
<path transform="translate(-8,-23) rotate(55)" d="M0,-5.6 C5.06,-3.9199999999999995 5.52,2.8 0,6.4399999999999995 C-5.52,2.8 -5.06,-3.9199999999999995 0,-5.6 Z" fill="#58a545"/>
<path transform="translate(6.5,-24.5) rotate(-50)" d="M0,-5.8 C5.28,-4.06 5.76,2.9 0,6.669999999999999 C-5.76,2.9 -5.28,-4.06 0,-5.8 Z" fill="#4f9c3e"/>
<path transform="translate(-4.5,-30) rotate(40)" d="M0,-4.2 C3.63,-2.94 3.9599999999999995,2.1 0,4.83 C-3.9599999999999995,2.1 -3.63,-2.94 0,-4.2 Z" fill="#4a963b"/>
<path transform="translate(4.5,-32) rotate(-40)" d="M0,-4.4 C3.63,-3.08 3.9599999999999995,2.2 0,5.06 C-3.9599999999999995,2.2 -3.63,-3.08 0,-4.4 Z" fill="#58a545"/>
<path transform="translate(0,-36.5) rotate(-5)" d="M0,-3.4 C1.9800000000000002,-2.38 2.16,1.7 0,3.9099999999999997 C-2.16,1.7 -1.9800000000000002,-2.38 0,-3.4 Z" fill="#4f9c3e"/>
<path transform="translate(-1,-10) rotate(0)" d="M0,-6.5 C4.620000000000001,-4.55 5.04,3.25 0,7.475 C-5.04,3.25 -4.620000000000001,-4.55 0,-6.5 Z" fill="#4a963b"/>
<path transform="translate(2,-19) rotate(-10)" d="M0,-5.4 C3.9600000000000004,-3.78 4.32,2.7 0,6.21 C-4.32,2.7 -3.9600000000000004,-3.78 0,-5.4 Z" fill="#3f8636"/>
<path d="M-3.3,0 h6.6 l-0.8,7.6 q-2.5,1.2 -5,0 Z" fill="#e0aa28"/><ellipse cx="0" cy="0" rx="3.3" ry="1.2" fill="#5b4a2a"/>
</g>
<line x1="91.7" y1="628.0" x2="91.7" y2="642.0" stroke="#e9ebed" stroke-width="1.4" />
<line x1="100.7" y1="634.0" x2="100.7" y2="647.0" stroke="#e9ebed" stroke-width="1.4" />
<polygon points="89.9,626.5 179.5,574.2 190.3,580.3 100.7,632.8" fill="#7c302c" />
<polygon points="89.9,626.5 100.7,632.8 100.7,634.6 89.9,628.3" fill="#54201d" />
<polygon points="100.7,632.8 190.3,580.3 190.3,582.1 100.7,634.6" fill="#5e2320" />
<polygon points="92.0,624.3 105.9,616.8 105.9,600.3 92.0,607.8" fill="#c3ccd3" />
<polygon points="92.8,623.1 105.3,616.0 105.3,601.1 92.8,609.0" fill="#68727b" />
<line x1="92.8" y1="619.9" x2="105.3" y2="612.6" stroke="#a9b4bc" stroke-width="0.6" />
<line x1="92.8" y1="615.8" x2="105.3" y2="608.5" stroke="#a9b4bc" stroke-width="0.6" />
<line x1="92.8" y1="611.7" x2="105.3" y2="604.3" stroke="#a9b4bc" stroke-width="0.6" />
<line x1="96.6" y1="620.9" x2="96.6" y2="606.4" stroke="#a9b4bc" stroke-width="0.5" />
<line x1="101.1" y1="618.4" x2="101.1" y2="603.9" stroke="#a9b4bc" stroke-width="0.5" />
<ellipse cx="100.9" cy="622.8" rx="2.6" ry="1.5" fill="#d5dadf" stroke="#555" stroke-width="0.4"/>
<polygon points="106.4,616.5 120.3,609.0 120.3,592.5 106.4,600.0" fill="#c3ccd3" />
<polygon points="107.2,615.3 119.7,608.2 119.7,593.3 107.2,601.2" fill="#68727b" />
<line x1="107.2" y1="612.1" x2="119.7" y2="604.7" stroke="#a9b4bc" stroke-width="0.6" />
<line x1="107.2" y1="607.9" x2="119.7" y2="600.6" stroke="#a9b4bc" stroke-width="0.6" />
<line x1="107.2" y1="603.8" x2="119.7" y2="596.5" stroke="#a9b4bc" stroke-width="0.6" />
<line x1="111.0" y1="613.0" x2="111.0" y2="598.5" stroke="#a9b4bc" stroke-width="0.5" />
<line x1="115.6" y1="610.5" x2="115.6" y2="596.0" stroke="#a9b4bc" stroke-width="0.5" />
<ellipse cx="115.4" cy="614.9" rx="2.6" ry="1.5" fill="#d5dadf" stroke="#555" stroke-width="0.4"/>
<polygon points="122.7,607.8 136.2,600.4 136.2,583.9 122.7,591.3" fill="#c3ccd3" />
<polygon points="123.5,606.6 135.6,599.6 135.6,584.7 123.5,592.5" fill="#68727b" />
<line x1="123.5" y1="603.4" x2="135.6" y2="596.2" stroke="#a9b4bc" stroke-width="0.6" />
<line x1="123.5" y1="599.3" x2="135.6" y2="592.1" stroke="#a9b4bc" stroke-width="0.6" />
<line x1="123.5" y1="595.2" x2="135.6" y2="587.9" stroke="#a9b4bc" stroke-width="0.6" />
<line x1="127.1" y1="604.4" x2="127.1" y2="589.9" stroke="#a9b4bc" stroke-width="0.5" />
<line x1="131.6" y1="601.9" x2="131.6" y2="587.4" stroke="#a9b4bc" stroke-width="0.5" />
<ellipse cx="131.4" cy="606.3" rx="2.6" ry="1.5" fill="#d5dadf" stroke="#555" stroke-width="0.4"/>
<polygon points="136.7,600.1 150.2,592.7 150.2,576.2 136.7,583.6" fill="#c3ccd3" />
<polygon points="137.5,598.9 149.6,591.9 149.6,577.0 137.5,584.8" fill="#68727b" />
<line x1="137.5" y1="595.7" x2="149.6" y2="588.4" stroke="#a9b4bc" stroke-width="0.6" />
<line x1="137.5" y1="591.5" x2="149.6" y2="584.3" stroke="#a9b4bc" stroke-width="0.6" />
<line x1="137.5" y1="587.4" x2="149.6" y2="580.2" stroke="#a9b4bc" stroke-width="0.6" />
<line x1="141.2" y1="596.6" x2="141.2" y2="582.1" stroke="#a9b4bc" stroke-width="0.5" />
<line x1="145.6" y1="594.2" x2="145.6" y2="579.7" stroke="#a9b4bc" stroke-width="0.5" />
<ellipse cx="145.5" cy="598.6" rx="2.6" ry="1.5" fill="#d5dadf" stroke="#555" stroke-width="0.4"/>
<polygon points="152.6,591.4 166.3,583.7 166.3,567.2 152.6,574.9" fill="#c3ccd3" />
<polygon points="153.4,590.2 165.7,582.9 165.7,568.0 153.4,576.1" fill="#68727b" />
<line x1="153.4" y1="587.0" x2="165.7" y2="579.5" stroke="#a9b4bc" stroke-width="0.6" />
<line x1="153.4" y1="582.9" x2="165.7" y2="575.4" stroke="#a9b4bc" stroke-width="0.6" />
<line x1="153.4" y1="578.8" x2="165.7" y2="571.2" stroke="#a9b4bc" stroke-width="0.6" />
<line x1="157.1" y1="587.9" x2="157.1" y2="573.4" stroke="#a9b4bc" stroke-width="0.5" />
<line x1="161.6" y1="585.3" x2="161.6" y2="570.8" stroke="#a9b4bc" stroke-width="0.5" />
<ellipse cx="161.5" cy="589.8" rx="2.6" ry="1.5" fill="#d5dadf" stroke="#555" stroke-width="0.4"/>
<polygon points="166.9,583.4 180.6,575.7 180.6,559.2 166.9,566.9" fill="#c3ccd3" />
<polygon points="167.7,582.2 180.0,574.9 180.0,560.0 167.7,568.1" fill="#68727b" />
<line x1="167.7" y1="579.0" x2="180.0" y2="571.4" stroke="#a9b4bc" stroke-width="0.6" />
<line x1="167.7" y1="574.8" x2="180.0" y2="567.3" stroke="#a9b4bc" stroke-width="0.6" />
<line x1="167.7" y1="570.7" x2="180.0" y2="563.2" stroke="#a9b4bc" stroke-width="0.6" />
<line x1="171.4" y1="579.8" x2="171.4" y2="565.3" stroke="#a9b4bc" stroke-width="0.5" />
<line x1="175.9" y1="577.3" x2="175.9" y2="562.8" stroke="#a9b4bc" stroke-width="0.5" />
<ellipse cx="175.8" cy="581.7" rx="2.6" ry="1.5" fill="#d5dadf" stroke="#555" stroke-width="0.4"/>
<polygon points="113.0,623.5 121.0,619.1 124.0,620.7 116.0,625.1" fill="#8f979e" />
<polygon points="144.0,606.0 152.0,601.6 155.0,603.2 147.0,607.6" fill="#8f979e" />
<polygon points="175.0,588.5 183.0,584.1 186.0,585.7 178.0,590.1" fill="#8f979e" />
<g transform="translate(127.9,612)">
<ellipse cx="1" cy="31" rx="9.5" ry="4.5" fill="#3b97ba" opacity="0.7"/>
<path d="M3,21 V28 M-3,31.5 L3,28 L9.5,31 M3,28 V32.5 M-1,26.5 L3,28 L8,26" stroke="#e8eef2" stroke-width="1.3" fill="none" stroke-linecap="round"/>
<path d="M-4.5,17.5 L4.5,21.5 L11.5,17.5 L2.5,13.8 Z" fill="#93a5b6"/>
<path d="M4.5,7 L11.5,2.5 Q12.8,2.3 12.8,3.8 L12,17.5 L4.8,21.5 Z" fill="#b7c3ce"/>
<path d="M4.5,7 L4.8,21.5 L3.6,21 L3.3,7.6 Z" fill="#8798a9"/>
<path d="M0,12.5 L-8.5,14.5 L-9.5,22.5 L-6.5,23 L-5.6,17.8 L2.5,16.5 Z" fill="#193f68"/>
<path d="M-11.5,22 L-6,22.3 L-6,24.2 L-11.5,24 Z" fill="#0e0e0e"/>
<path d="M-3.2,3.4 Q0.5,1.8 4.6,4 L5.2,15 L-1.2,16.2 L-3.4,9 Z" fill="#1f5182"/>
<path d="M-2.6,4.5 L-5,10 L-11.5,8.6 L-11.3,7 L-6.3,7.6 L-4,3.6 Z" fill="#245a8f"/>
<circle cx="-11.8" cy="7.7" r="1" fill="#d9a27c"/>
<circle cx="0" cy="0" r="2.9" fill="#d9a27c"/><path d="M-2.2,-2.2 Q0.5,-4.4 3,-1.8 Q3.6,0.8 2.6,2.2 Q1.4,-0.2 -0.6,-1.4 Z" fill="#5e3419"/>
</g>
<g transform="translate(158.6,595.7)">
<ellipse cx="1" cy="31" rx="9.5" ry="4.5" fill="#3b97ba" opacity="0.7"/>
<path d="M3,21 V28 M-3,31.5 L3,28 L9.5,31 M3,28 V32.5 M-1,26.5 L3,28 L8,26" stroke="#e8eef2" stroke-width="1.3" fill="none" stroke-linecap="round"/>
<path d="M-4.5,17.5 L4.5,21.5 L11.5,17.5 L2.5,13.8 Z" fill="#93a5b6"/>
<path d="M4.5,7 L11.5,2.5 Q12.8,2.3 12.8,3.8 L12,17.5 L4.8,21.5 Z" fill="#b7c3ce"/>
<path d="M4.5,7 L4.8,21.5 L3.6,21 L3.3,7.6 Z" fill="#8798a9"/>
<path d="M0,12.5 L-8.5,14.5 L-9.5,22.5 L-6.5,23 L-5.6,17.8 L2.5,16.5 Z" fill="#193f68"/>
<path d="M-11.5,22 L-6,22.3 L-6,24.2 L-11.5,24 Z" fill="#0e0e0e"/>
<path d="M-3.2,3.4 Q0.5,1.8 4.6,4 L5.2,15 L-1.2,16.2 L-3.4,9 Z" fill="#1f5182"/>
<path d="M-2.6,4.5 L-5,10 L-11.5,8.6 L-11.3,7 L-6.3,7.6 L-4,3.6 Z" fill="#245a8f"/>
<circle cx="-11.8" cy="7.7" r="1" fill="#d9a27c"/>
<circle cx="0" cy="0" r="2.9" fill="#d9a27c"/><path d="M-2.2,-2.2 Q0.5,-4.4 3,-1.8 Q3.6,0.8 2.6,2.2 Q1.4,-0.2 -0.6,-1.4 Z" fill="#5e3419"/>
</g>
<g transform="translate(188.5,577.6)">
<ellipse cx="1" cy="31" rx="9.5" ry="4.5" fill="#3b97ba" opacity="0.7"/>
<path d="M3,21 V28 M-3,31.5 L3,28 L9.5,31 M3,28 V32.5 M-1,26.5 L3,28 L8,26" stroke="#e8eef2" stroke-width="1.3" fill="none" stroke-linecap="round"/>
<path d="M-4.5,17.5 L4.5,21.5 L11.5,17.5 L2.5,13.8 Z" fill="#93a5b6"/>
<path d="M4.5,7 L11.5,2.5 Q12.8,2.3 12.8,3.8 L12,17.5 L4.8,21.5 Z" fill="#b7c3ce"/>
<path d="M4.5,7 L4.8,21.5 L3.6,21 L3.3,7.6 Z" fill="#8798a9"/>
<path d="M0,12.5 L-8.5,14.5 L-9.5,22.5 L-6.5,23 L-5.6,17.8 L2.5,16.5 Z" fill="#193f68"/>
<path d="M-11.5,22 L-6,22.3 L-6,24.2 L-11.5,24 Z" fill="#0e0e0e"/>
<path d="M-3.2,3.4 Q0.5,1.8 4.6,4 L5.2,15 L-1.2,16.2 L-3.4,9 Z" fill="#1f5182"/>
<path d="M-2.6,4.5 L-5,10 L-11.5,8.6 L-11.3,7 L-6.3,7.6 L-4,3.6 Z" fill="#245a8f"/>
<circle cx="-11.8" cy="7.7" r="1" fill="#d9a27c"/>
<circle cx="0" cy="0" r="2.9" fill="#d9a27c"/><path d="M-2.2,-2.2 Q0.5,-4.4 3,-1.8 Q3.6,0.8 2.6,2.2 Q1.4,-0.2 -0.6,-1.4 Z" fill="#5e3419"/>
</g>
<g transform="translate(77.2,599.3) scale(1.0)">
<ellipse cx="0.5" cy="41" rx="8" ry="3.6" fill="#3b97ba" opacity="0.7"/>
<path d="M-4.2,21 L-3.6,40 L-0.6,40 L0.2,26 L1.4,40.6 L4.4,40.6 L4.6,21 Z" fill="#193f68"/>
<path d="M-5.2,39.4 h4.8 v2 h-4.8z M0.8,40 h4.8 v2 h-4.8z" fill="#0e0e0e"/>
<path d="M-4.6,4.6 Q0,2.2 4.8,4.6 L5.4,22.5 L-4.8,22.5 Z" fill="#1f5182"/>
<path d="M3.4,5.4 L6.6,13 L11.5,16 L10.8,17.6 L4.8,14.6 L2.4,9 Z" fill="#2a63a0"/><circle cx="11.6" cy="17" r="1" fill="#d9a27c"/>
<circle cx="0" cy="0" r="3" fill="#d9a27c"/><path d="M-3,-0.6 Q-2.4,-4 1,-3.6 Q3.4,-3 3.2,-0.4 Q1,-2 -1,-1.2 Q-2,0.4 -2.4,1.6 Z" fill="#5e3419"/>
</g>
<polygon points="84.8,607.3 89.4,604.3 92.0,609.6 87.4,612.6" fill="#eef2f5" stroke="#48525c" stroke-width="0.5"/>
<g transform="translate(145,616) scale(0.78)">
<ellipse cx="0.5" cy="41" rx="8" ry="3.6" fill="#3b97ba" opacity="0.7"/>
<path d="M-4.2,21 L-3.6,40 L-0.6,40 L0.2,26 L1.4,40.6 L4.4,40.6 L4.6,21 Z" fill="#193f68"/>
<path d="M-5.2,39.4 h4.8 v2 h-4.8z M0.8,40 h4.8 v2 h-4.8z" fill="#0e0e0e"/>
<path d="M-4.6,4.6 Q0,2.2 4.8,4.6 L5.4,22.5 L-4.8,22.5 Z" fill="#1f5182"/>
<circle cx="0" cy="0" r="3" fill="#5e3419"/>
</g>
<path d="M157.3,521.5 L155.3,480.8 L154.4,441.0 Q155.6,438.8 156.8,441.0 L160.3,480.8 L162.7,521.5 Z" fill="#1b1b1b"/>
<path d="M158.8,521.5 L156.6,480.8 L155.1,442.0" stroke="#3d3d3d" stroke-width="0.9" fill="none"/>
<path d="M157.3,518.5 L157.3,523.0 L166.0,522.5 L166.0,518.0 L162.7,516.5 Z" fill="#1b1b1b"/>
<path d="M195.5,510.5 L195.2,473.9 L196.1,438.3 Q197.3,436.1 198.5,438.3 L200.2,473.9 L200.9,510.5 Z" fill="#1b1b1b"/>
<path d="M197.0,510.5 L196.6,473.9 L196.8,439.3" stroke="#3d3d3d" stroke-width="0.9" fill="none"/>
<path d="M195.5,507.5 L195.5,512.0 L204.5,509.5 L204.5,505.0 L200.9,505.5 Z" fill="#1b1b1b"/>
<polygon points="158.0,523.7 208.9,506.2 245.6,516.3 193.3,538.4" fill="#808080" />
<polygon points="193.3,538.4 245.6,516.3 245.6,525.5 194.2,550.3" fill="#6b6b6b" />
<polygon points="158.0,523.7 193.3,538.4 194.2,550.3 158.4,531.0" fill="#737373" />
<polygon points="169.0,536.0 177.0,540.0 177.0,545.0 169.0,541.0" fill="#8a8a8a" />
<polygon points="199.7,538.6 221.8,529.3 221.8,536.3 199.7,545.6" fill="#f2f2f2" />
<polygon points="200.8,539.6 205.0,537.8 205.0,542.2 200.8,544.0" fill="#222" />
<polygon points="206.1,537.4 210.3,535.6 210.3,540.0 206.1,541.8" fill="#222" />
<polygon points="211.4,535.1 215.6,533.3 215.6,537.7 211.4,539.5" fill="#222" />
<polygon points="216.7,532.9 220.9,531.1 220.9,535.5 216.7,537.3" fill="#222" />
<polygon points="223.0,528.8 229.0,526.3 229.0,532.3 223.0,534.8" fill="#f2f2f2" />
<polygon points="224.0,529.8 228.0,528.1 228.0,531.5 224.0,533.2" fill="#222" />
<polygon points="233.5,525.3 238.0,523.4 238.0,526.8 233.5,528.7" fill="#3fb54a" />
<polygon points="240.5,522.0 243.5,520.8 243.5,525.6 240.5,526.8" fill="#2a2a2a" />
<circle cx="215.7" cy="478.5" r="3.3" fill="#2b8fcc"/>
<path d="M225.4,470.9 A12.3,12.3 0 0 1 225.4,486.1" fill="none" stroke="url(#gWfV)" stroke-width="5.4" stroke-linecap="round"/>
<path d="M235.8,463.3 A25.2,25.2 0 0 1 235.8,493.7" fill="none" stroke="url(#gWfV)" stroke-width="6.6" stroke-linecap="round"/>
<path d="M247.8,457.6 A38.3,38.3 0 0 1 247.8,499.4" fill="none" stroke="url(#gWfV)" stroke-width="7.3" stroke-linecap="round"/>
<text x="69.7" y="521.8" font-size="11.4" font-weight="bold" fill="#111" text-anchor="start" textLength="79" lengthAdjust="spacingAndGlyphs" >Video Sending</text>
<text x="231.3" y="549.5" font-size="11.4" font-weight="bold" fill="#2089c8" text-anchor="start" textLength="47.5" lengthAdjust="spacingAndGlyphs" >URT6105</text>
<text x="189" y="668.4" font-size="11.4" font-weight="bold" fill="#111" text-anchor="start" textLength="79" lengthAdjust="spacingAndGlyphs" >Control Center</text>
<polygon points="615.0,629.0 641.2,645.9 641.2,658.0 615.0,641.0" fill="#3b3e41" />
<polygon points="615.0,629.0 632.0,619.0 648.0,628.0 641.2,645.9" fill="#4f5356" />
<line x1="622.0" y1="633.0" x2="636.0" y2="641.0" stroke="#b9bcbe" stroke-width="1.3" />
<line x1="627.0" y1="636.2" x2="641.0" y2="644.2" stroke="#b9bcbe" stroke-width="1.3" />
<line x1="632.0" y1="639.4" x2="646.0" y2="647.4" stroke="#b9bcbe" stroke-width="1.3" />
<polygon points="641.2,645.9 648.5,637.0 760.0,577.0 790.0,562.0 823.0,581.0 838.2,593.0 695.6,673.8" fill="#e0e0e0" />
<polygon points="695.6,673.8 838.2,593.0 838.2,606.2 695.6,688.6" fill="#858585" />
<polygon points="641.2,645.9 695.6,673.8 695.6,688.6 641.2,657.8" fill="#b0b0b0" />
<line x1="641.2" y1="645.9" x2="695.6" y2="673.8" stroke="#e6e6e6" stroke-width="0.8" />
<line x1="695.6" y1="673.8" x2="838.2" y2="593.0" stroke="#e6e6e6" stroke-width="0.8" />
<line x1="652.0" y1="639.0" x2="760.0" y2="580.5" stroke="#e9e3a6" stroke-width="1.2" />
<polygon points="632.5,610.0 650.5,617.5 762.0,557.5 746.0,550.5" fill="#949ec4" />
<polygon points="632.5,610.0 650.5,617.5 762.0,557.5 760.0,556.3 650.0,616.0 634.0,609.2" fill="#aab3d2" />
<polygon points="649.5,618.8 762.0,558.8 762.0,578.5 649.5,638.5" fill="#6273ac" />
<polygon points="649.5,633.0 762.0,573.0 762.0,578.5 649.5,638.5" fill="#41569a" />
<polygon points="652.0,620.5 658.8,616.8 658.8,628.8 652.0,632.5" fill="#41569a" />
<polygon points="652.9,621.0 655.1,619.8 655.1,629.8 652.9,631.0" fill="#78d2cd" />
<polygon points="655.7,619.5 657.9,618.3 657.9,628.3 655.7,629.5" fill="#78d2cd" />
<polygon points="689.1,600.7 696.0,597.0 696.0,609.0 689.1,612.7" fill="#41569a" />
<polygon points="690.0,601.2 692.2,600.0 692.2,610.0 690.0,611.2" fill="#78d2cd" />
<polygon points="692.8,599.7 695.1,598.5 695.1,608.5 692.8,609.7" fill="#78d2cd" />
<polygon points="719.5,584.5 726.3,580.8 726.3,592.8 719.5,596.5" fill="#41569a" />
<polygon points="720.4,585.0 722.6,583.8 722.6,593.8 720.4,595.0" fill="#78d2cd" />
<polygon points="723.2,583.5 725.4,582.3 725.4,592.3 723.2,593.5" fill="#78d2cd" />
<polygon points="749.9,568.3 756.7,564.6 756.7,576.6 749.9,580.3" fill="#41569a" />
<polygon points="750.8,568.8 753.0,567.6 753.0,577.6 750.8,578.8" fill="#78d2cd" />
<polygon points="753.6,567.3 755.8,566.1 755.8,576.1 753.6,577.3" fill="#78d2cd" />
<polygon points="663.0,615.1 674.2,609.1 674.2,618.1 663.0,624.1" fill="#84d9d4" />
<polygon points="664.1,615.5 666.4,614.3 666.4,621.3 664.1,622.5" fill="#c6efec" />
<polygon points="674.8,608.8 685.5,603.1 685.5,612.1 674.8,617.8" fill="#84d9d4" />
<polygon points="675.9,609.2 678.2,608.0 678.2,615.0 675.9,616.2" fill="#c6efec" />
<polygon points="700.1,595.3 708.0,591.1 708.0,600.1 700.1,604.3" fill="#84d9d4" />
<polygon points="701.2,595.7 703.5,594.5 703.5,601.5 701.2,602.7" fill="#c6efec" />
<polygon points="708.6,590.8 717.0,586.3 717.0,595.3 708.6,599.8" fill="#84d9d4" />
<polygon points="709.7,591.2 711.9,590.0 711.9,597.0 709.7,598.2" fill="#c6efec" />
<polygon points="730.5,579.1 738.4,574.9 738.4,583.9 730.5,588.1" fill="#84d9d4" />
<polygon points="731.6,579.5 733.9,578.3 733.9,585.3 731.6,586.5" fill="#c6efec" />
<polygon points="738.9,574.6 746.8,570.4 746.8,579.4 738.9,583.6" fill="#84d9d4" />
<polygon points="740.1,575.0 742.3,573.8 742.3,580.8 740.1,582.0" fill="#c6efec" />
<polygon points="659.1,620.7 661.9,619.2 661.9,624.2 659.1,625.7" fill="#e6eaf2" />
<polygon points="686.6,606.0 689.1,604.7 689.1,609.7 686.6,611.0" fill="#e6eaf2" />
<polygon points="696.2,600.9 699.0,599.4 699.0,604.4 696.2,605.9" fill="#e6eaf2" />
<polygon points="718.1,589.2 719.8,588.3 719.8,593.3 718.1,594.2" fill="#e6eaf2" />
<polygon points="726.6,584.7 729.4,583.2 729.4,588.2 726.6,589.7" fill="#e6eaf2" />
<polygon points="747.9,573.3 750.2,572.1 750.2,577.1 747.9,578.3" fill="#e6eaf2" />
<polygon points="631.0,612.4 649.5,619.2 649.5,638.8 631.0,634.8" fill="#4a66ae" />
<polygon points="632.3,614.6 648.2,620.6 648.2,631.0 632.3,626.4" fill="#18222f" />
<polygon points="633.2,615.8 647.3,621.2 647.3,629.8 633.2,625.4" fill="#9adfdf" />
<polygon points="633.2,619.0 647.3,624.2 647.3,626.0 633.2,621.0" fill="#c9f0ef" />
<polygon points="631.0,628.5 649.5,634.5 649.5,638.8 631.0,634.8" fill="#2f7cc0" />
<polygon points="758.0,524.0 778.2,536.0 778.2,592.0 758.0,581.8" fill="#6c8198" />
<polygon points="778.2,536.0 809.4,520.3 809.4,579.0 778.2,592.0" fill="#53687e" />
<polygon points="758.0,524.0 790.0,509.0 809.4,520.3 778.2,536.0" fill="#a5bbd0" />
<line x1="758.0" y1="538.5" x2="778.2" y2="550.2" stroke="#566b81" stroke-width="0.6" />
<line x1="778.2" y1="550.2" x2="809.4" y2="534.9" stroke="#41566b" stroke-width="0.6" />
<line x1="758.0" y1="553.0" x2="778.2" y2="564.4" stroke="#566b81" stroke-width="0.6" />
<line x1="778.2" y1="564.4" x2="809.4" y2="549.5" stroke="#41566b" stroke-width="0.6" />
<line x1="758.0" y1="567.5" x2="778.2" y2="578.6" stroke="#566b81" stroke-width="0.6" />
<line x1="778.2" y1="578.6" x2="809.4" y2="564.1" stroke="#41566b" stroke-width="0.6" />
<line x1="788.6" y1="530.8" x2="788.6" y2="587.6" stroke="#41566b" stroke-width="0.6" />
<line x1="799.0" y1="525.6" x2="799.0" y2="583.2" stroke="#41566b" stroke-width="0.6" />
<line x1="768.0" y1="530.0" x2="768.0" y2="587.0" stroke="#566b81" stroke-width="0.6" />
<polygon points="766.0,569.0 775.5,573.5 775.5,581.0 766.0,576.5" fill="#1d1d1d" />
<polygon points="771.0,573.0 774.5,574.7 774.5,578.0 771.0,576.3" fill="#d0332e" />
<line x1="776.8" y1="566.0" x2="776.8" y2="597.0" stroke="#b9bec3" stroke-width="1.3" />
<polygon points="778.0,598.0 781.0,596.0 803.0,607.0 799.0,609.5" fill="#8f8f8f" />
<polygon points="796.5,604.6 830.4,552.4 831.8,553.6 831.8,590.5 803.0,607.2" fill="#8e8e90" />
<polygon points="788.7,600.4 824.0,548.8 830.4,552.4 796.5,604.6" fill="#858587" />
<polygon points="781.0,596.0 817.0,544.6 824.0,548.8 788.7,600.4" fill="#858587" />
<line x1="784.8" y1="598.2" x2="820.5" y2="546.7" stroke="#555" stroke-width="2.6" stroke-dasharray="1.1 1.3"/>
<line x1="792.6" y1="602.5" x2="827.2" y2="550.6" stroke="#555" stroke-width="2.6" stroke-dasharray="1.1 1.3"/>
<line x1="781.0" y1="596.0" x2="817.0" y2="544.6" stroke="#1c1c1c" stroke-width="1.7" stroke-linecap="round"/>
<line x1="781.9" y1="596.5" x2="817.9" y2="545.1" stroke="#d9d9d9" stroke-width="0.5" />
<line x1="788.7" y1="600.4" x2="824.0" y2="548.8" stroke="#1c1c1c" stroke-width="1.7" stroke-linecap="round"/>
<line x1="789.6" y1="600.9" x2="824.9" y2="549.3" stroke="#d9d9d9" stroke-width="0.5" />
<line x1="796.5" y1="604.6" x2="830.4" y2="552.4" stroke="#1c1c1c" stroke-width="1.7" stroke-linecap="round"/>
<line x1="797.4" y1="605.1" x2="831.3" y2="552.9" stroke="#d9d9d9" stroke-width="0.5" />
<polygon points="665.0,650.0 678.0,643.0 679.5,644.0 666.5,651.0" fill="#2a2a2a" />
<polygon points="665.0,649.0 678.0,642.0 678.0,639.0 665.0,646.0" fill="#3a3a3a" />
<line x1="666.0" y1="650.0" x2="666.0" y2="653.5" stroke="#222" stroke-width="0.8" />
<line x1="678.5" y1="643.5" x2="678.5" y2="647.0" stroke="#222" stroke-width="0.8" />
<polygon points="704.0,624.0 717.0,617.0 718.5,618.0 705.5,625.0" fill="#2a2a2a" />
<polygon points="704.0,623.0 717.0,616.0 717.0,613.0 704.0,620.0" fill="#3a3a3a" />
<line x1="705.0" y1="624.0" x2="705.0" y2="627.5" stroke="#222" stroke-width="0.8" />
<line x1="717.5" y1="617.5" x2="717.5" y2="621.0" stroke="#222" stroke-width="0.8" />
<polygon points="741.0,600.0 754.0,593.0 755.5,594.0 742.5,601.0" fill="#2a2a2a" />
<polygon points="741.0,599.0 754.0,592.0 754.0,589.0 741.0,596.0" fill="#3a3a3a" />
<line x1="742.0" y1="600.0" x2="742.0" y2="603.5" stroke="#222" stroke-width="0.8" />
<line x1="754.5" y1="593.5" x2="754.5" y2="597.0" stroke="#222" stroke-width="0.8" />
<g transform="translate(686,646) scale(1.15)">
<rect x="-1.3" y="-6" width="2.6" height="6" fill="#24364f"/><rect x="-1.6" y="-11.5" width="3.2" height="6" rx="0.8" fill="#1f2d44"/><circle cx="0" cy="-13" r="1.4" fill="#d9a27c"/>
</g>
<g transform="translate(713,618) scale(1.15)">
<rect x="-1.3" y="-6" width="2.6" height="6" fill="#24364f"/><rect x="-1.6" y="-11.5" width="3.2" height="6" rx="0.8" fill="#d0402f"/><circle cx="0" cy="-13" r="1.4" fill="#d9a27c"/>
</g>
<g transform="translate(732,604) scale(1.15)">
<rect x="-1.3" y="-6" width="2.6" height="6" fill="#24364f"/><rect x="-1.6" y="-11.5" width="3.2" height="6" rx="0.8" fill="#2c3e60"/><circle cx="0" cy="-13" r="1.4" fill="#d9a27c"/>
</g>
<g transform="translate(742,592) scale(1.15)">
<rect x="-1.3" y="-6" width="2.6" height="6" fill="#24364f"/><rect x="-1.6" y="-11.5" width="3.2" height="6" rx="0.8" fill="#cf3a33"/><circle cx="0" cy="-13" r="1.4" fill="#d9a27c"/>
</g>
<g transform="translate(749,608) scale(1.15)">
<rect x="-1.3" y="-6" width="2.6" height="6" fill="#9ab"/><rect x="-1.6" y="-11.5" width="3.2" height="6" rx="0.8" fill="#e9eef2"/><circle cx="0" cy="-13" r="1.4" fill="#d9a27c"/>
</g>
<g transform="translate(769,602) scale(1.15)">
<rect x="-1.3" y="-6" width="2.6" height="6" fill="#345"/><rect x="-1.6" y="-11.5" width="3.2" height="6" rx="0.8" fill="#e9eef2"/><circle cx="0" cy="-13" r="1.4" fill="#d9a27c"/>
</g>
<g transform="translate(761,586) scale(1.15)">
<rect x="-1.3" y="-6" width="2.6" height="6" fill="#223"/><rect x="-1.6" y="-11.5" width="3.2" height="6" rx="0.8" fill="#e9eef2"/><circle cx="0" cy="-13" r="1.4" fill="#d9a27c"/>
</g>
<g transform="translate(801,585) scale(1.15)">
<rect x="-1.3" y="-6" width="2.6" height="6" fill="#2c4a7a"/><rect x="-1.6" y="-11.5" width="3.2" height="6" rx="0.8" fill="#e08a2e"/><circle cx="0" cy="-13" r="1.4" fill="#d9a27c"/>
</g>
<g transform="translate(704,632) scale(1.15)">
<rect x="-1.3" y="-6" width="2.6" height="6" fill="#24364f"/><rect x="-1.6" y="-11.5" width="3.2" height="6" rx="0.8" fill="#263a5c"/><circle cx="0" cy="-13" r="1.4" fill="#d9a27c"/>
</g>
<g transform="translate(721,622) scale(1.15)">
<rect x="-1.3" y="-6" width="2.6" height="6" fill="#24364f"/><rect x="-1.6" y="-11.5" width="3.2" height="6" rx="0.8" fill="#d9822b"/><circle cx="0" cy="-13" r="1.4" fill="#d9a27c"/>
</g>
<rect x="765" y="603" width="3" height="4" fill="#1d2a44"/>
<path d="M731,533.5 L712,541.8 Q708.7,543 708.7,546.5 V601 Q708.7,603.5 706.5,605.3 L702,609.5 Q700,611.3 700,614 V641" fill="none" stroke="#1e1e1e" stroke-width="3.1"/>
<path d="M735.5,535.5 L722,546.8 Q718.7,549.5 718.7,553 V629" fill="none" stroke="#1e1e1e" stroke-width="3.1"/>
<path d="M740.5,537.5 L730,547.5 Q727,550 727,554 V588 Q727,592 731,592 H733 Q737,592 737,596 V617" fill="none" stroke="#1e1e1e" stroke-width="3.1"/>
<polygon points="694.0,664.5 707.0,658.0 711.5,660.5 698.5,667.0" fill="#262626" />
<polygon points="698.0,641.0 707.0,636.5 708.2,637.2 708.2,660.0 699.2,664.5 698.0,663.8" fill="#2b2b2b" />
<polygon points="699.4,642.5 706.6,638.9 706.6,658.0 699.4,661.5" fill="#a9dcf2" />
<polygon points="699.4,649.5 706.6,643.5 706.6,648.5 699.4,654.5" fill="#d3eefa" />
<polygon points="711.0,653.0 724.0,646.5 728.5,649.0 715.5,655.5" fill="#262626" />
<polygon points="715.0,629.5 724.0,625.0 725.2,625.7 725.2,648.5 716.2,653.0 715.0,652.3" fill="#2b2b2b" />
<polygon points="716.4,631.0 723.6,627.4 723.6,646.5 716.4,650.0" fill="#a9dcf2" />
<polygon points="716.4,638.0 723.6,632.0 723.6,637.0 716.4,643.0" fill="#d3eefa" />
<polygon points="728.5,642.0 741.5,635.5 746.0,638.0 733.0,644.5" fill="#262626" />
<polygon points="732.5,618.5 741.5,614.0 742.7,614.7 742.7,637.5 733.7,642.0 732.5,641.3" fill="#2b2b2b" />
<polygon points="733.9,620.0 741.1,616.4 741.1,635.5 733.9,639.0" fill="#a9dcf2" />
<polygon points="733.9,627.0 741.1,621.0 741.1,626.0 733.9,632.0" fill="#d3eefa" />
<path d="M642.6,568.0 L643.0,530.0 L644.4,493.0 Q645.6,490.8 646.8,493.0 L648.0,530.0 L648.0,568.0 Z" fill="#1b1b1b"/>
<path d="M644.1,568.0 L644.2,530.0 L645.1,494.0" stroke="#3d3d3d" stroke-width="0.9" fill="none"/>
<path d="M689.9,579.0 L691.7,536.8 L694.6,495.5 Q695.8,493.3 697.0,495.5 L696.7,536.8 L695.3,579.0 Z" fill="#1b1b1b"/>
<path d="M691.4,579.0 L693.0,536.8 L695.3,496.5" stroke="#3d3d3d" stroke-width="0.9" fill="none"/>
<polygon points="596.9,577.2 623.0,564.2 690.7,580.8 664.6,593.8" fill="#808080" />
<polygon points="596.9,577.2 664.6,593.8 665.0,607.0 597.4,589.0" fill="#737373" />
<polygon points="664.6,593.8 690.7,580.8 690.7,590.3 665.0,607.0" fill="#666666" />
<polygon points="600.5,580.6 626.6,587.0 626.6,596.0 600.5,589.4" fill="#f2f2f2" />
<polygon points="601.7,582.0 606.7,583.2 606.7,589.3 601.7,588.0" fill="#222" />
<polygon points="607.9,583.5 612.9,584.8 612.9,590.8 607.9,589.5" fill="#222" />
<polygon points="614.1,585.0 619.1,586.3 619.1,592.3 614.1,591.0" fill="#222" />
<polygon points="620.3,586.6 625.3,587.8 625.3,593.9 620.3,592.6" fill="#222" />
<polygon points="628.0,587.6 637.3,589.9 637.3,597.6 628.0,595.2" fill="#f2f2f2" />
<polygon points="629.2,589.2 636.2,590.9 636.2,595.8 629.2,594.1" fill="#222" />
<polygon points="642.0,595.6 649.6,597.4 649.6,601.0 642.0,599.2" fill="#3fb54a" />
<polygon points="651.8,596.2 657.5,597.6 657.5,604.4 651.8,603.0" fill="#1c1c1c" />
<polygon points="671.0,594.5 680.0,590.0 680.0,594.0 671.0,598.5" fill="#6e6e6e" />
<g transform="translate(1253.2,0) scale(-1,1)">
<circle cx="626.6" cy="522.8" r="3.0" fill="#4fabdc"/>
<path d="M635.5,515.8 A11.3,11.3 0 0 1 635.5,529.8" fill="none" stroke="#3a9ad3" stroke-width="5.0" stroke-linecap="round"/>
<path d="M645.1,508.8 A23.2,23.2 0 0 1 645.1,536.8" fill="none" stroke="#3193cf" stroke-width="6.1" stroke-linecap="round"/>
<path d="M656.2,503.6 A35.2,35.2 0 0 1 656.2,542.0" fill="none" stroke="#2a8ccb" stroke-width="6.7" stroke-linecap="round"/>
</g>
<text x="554" y="602" font-size="11.4" font-weight="bold" fill="#2089c8" text-anchor="start" textLength="49" lengthAdjust="spacingAndGlyphs" >URT6105</text>
<path d="M716.3,517.0 L715.5,476.8 L715.8,437.6 Q717.0,435.4 718.2,437.6 L720.5,476.8 L721.7,517.0 Z" fill="#1b1b1b"/>
<path d="M717.8,517.0 L716.8,476.8 L716.5,438.6" stroke="#3d3d3d" stroke-width="0.9" fill="none"/>
<path d="M755.2,505.0 L755.0,469.4 L755.8,434.8 Q757.0,432.6 758.2,434.8 L760.0,469.4 L760.6,505.0 Z" fill="#1b1b1b"/>
<path d="M756.7,505.0 L756.2,469.4 L756.5,435.8" stroke="#3d3d3d" stroke-width="0.9" fill="none"/>
<polygon points="719.4,517.6 772.7,501.0 803.9,513.0 756.1,529.5" fill="#808080" />
<polygon points="756.1,529.5 803.9,513.0 803.9,519.6 757.0,542.4" fill="#6b6b6b" />
<polygon points="719.4,517.6 756.1,529.5 757.0,542.4 720.3,526.9" fill="#737373" />
<polygon points="731.0,527.5 739.0,530.3 739.0,535.5 731.0,532.7" fill="#858585" />
<polygon points="759.6,529.6 781.0,521.4 781.0,528.6 759.6,538.8" fill="#f2f2f2" />
<polygon points="760.6,530.6 764.8,528.9 764.8,533.8 760.6,536.2" fill="#222" />
<polygon points="765.7,528.6 769.9,526.9 769.9,531.8 765.7,534.2" fill="#222" />
<polygon points="770.8,526.5 775.0,524.8 775.0,529.7 770.8,532.1" fill="#222" />
<polygon points="775.9,524.5 780.1,522.8 780.1,527.7 775.9,530.1" fill="#222" />
<polygon points="782.5,520.8 788.5,518.4 788.5,524.4 782.5,527.0" fill="#f2f2f2" />
<polygon points="783.5,521.8 787.6,520.1 787.6,523.5 783.5,525.4" fill="#222" />
<polygon points="792.5,517.6 797.0,515.9 797.0,518.9 792.5,520.6" fill="#3fb54a" />
<polygon points="799.8,514.0 802.2,513.0 802.2,517.6 799.8,518.6" fill="#1c1c1c" />
<g transform="translate(1406.6,0) scale(-1,1)">
<circle cx="703.3" cy="469.4" r="3.1" fill="#4fabdc"/>
<path d="M712.3,462.4 A11.4,11.4 0 0 1 712.3,476.4" fill="none" stroke="#3a9ad3" stroke-width="5.0" stroke-linecap="round"/>
<path d="M722.0,455.3 A23.4,23.4 0 0 1 722.0,483.5" fill="none" stroke="#3193cf" stroke-width="6.1" stroke-linecap="round"/>
<path d="M733.2,450.0 A35.6,35.6 0 0 1 733.2,488.8" fill="none" stroke="#2a8ccb" stroke-width="6.8" stroke-linecap="round"/>
</g>
<text x="791.5" y="502.3" font-size="11.4" font-weight="bold" fill="#2089c8" text-anchor="start" textLength="48.5" lengthAdjust="spacingAndGlyphs" >URT6105</text>
<text x="762.6" y="670.8" font-size="11.4" font-weight="bold" fill="#111" text-anchor="start" textLength="82" lengthAdjust="spacingAndGlyphs" >Digital Signage</text>
</svg></body></html>
